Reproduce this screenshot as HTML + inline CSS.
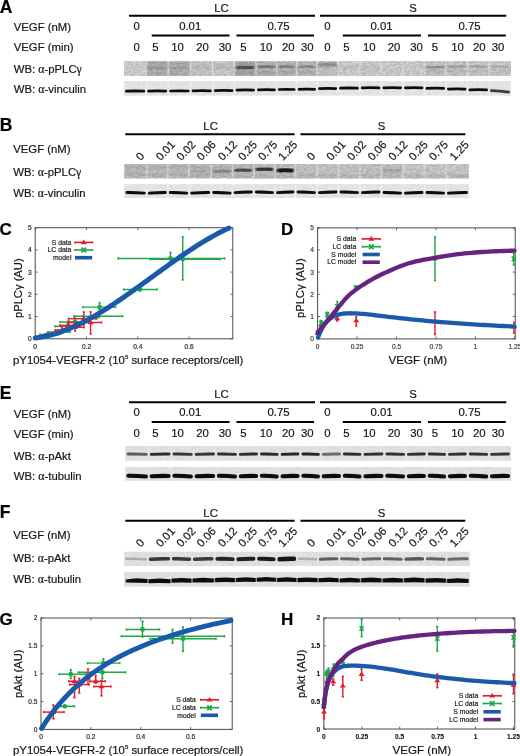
<!DOCTYPE html><html><head><meta charset="utf-8"><style>html,body{margin:0;padding:0;background:#fff;overflow:hidden}svg{display:block;filter:blur(0.3px)}text{font-family:"Liberation Sans",sans-serif}.g{font-family:"Liberation Serif",serif}</style></head><body>
<svg width="520" height="756" viewBox="0 0 520 756">
<defs>
<filter id="b06" x="-20%" y="-100%" width="140%" height="300%"><feGaussianBlur stdDeviation="0.55"/></filter>
<filter id="b08" x="-20%" y="-100%" width="140%" height="300%"><feGaussianBlur stdDeviation="0.85 0.7"/></filter>
<filter id="b04" x="-200%" y="-10%" width="500%" height="120%"><feGaussianBlur stdDeviation="0.4"/></filter>
<filter id="b1" x="-20%" y="-100%" width="140%" height="300%"><feGaussianBlur stdDeviation="1.0"/></filter>
<filter id="noise" x="0" y="0" width="100%" height="100%"><feTurbulence type="fractalNoise" baseFrequency="0.3" numOctaves="2" seed="3"/><feColorMatrix type="matrix" values="0 0 0 0 0  0 0 0 0 0  0 0 0 0 0  0 0 0 -1.4 1.1"/></filter>
<filter id="noise2" x="0" y="0" width="100%" height="100%"><feTurbulence type="fractalNoise" baseFrequency="0.3 0.55" numOctaves="2" seed="11"/><feColorMatrix type="matrix" values="0 0 0 0 0  0 0 0 0 0  0 0 0 0 0  0 0 0 -2.4 1.7"/></filter>
</defs>
<rect width="520" height="756" fill="#fff"/>
<text x="-0.30" y="12.70" font-size="17.5" text-anchor="start" font-weight="bold" fill="#000" stroke="#000" stroke-width="0.2">A</text>
<text x="13.70" y="30.90" font-size="11.35" text-anchor="start" font-weight="normal" fill="#161616" stroke="#161616" stroke-width="0.2">VEGF (nM)</text>
<text x="13.70" y="51.40" font-size="11.35" text-anchor="start" font-weight="normal" fill="#161616" stroke="#161616" stroke-width="0.2">VEGF (min)</text>
<text x="13.70" y="73.40" font-size="11.35" text-anchor="start" font-weight="normal" fill="#161616" stroke="#161616" stroke-width="0.2">WB: <tspan class="g" font-size="11.8">&#945;</tspan>-pPLC<tspan class="g" font-size="11.8">&#947;</tspan></text>
<text x="13.70" y="93.40" font-size="11.35" text-anchor="start" font-weight="normal" fill="#161616" stroke="#161616" stroke-width="0.2">WB: <tspan class="g" font-size="11.8">&#945;</tspan>-vinculin</text>
<line x1="129.00" y1="15.70" x2="315.00" y2="15.70" stroke="#000" stroke-width="2"/>
<line x1="320.00" y1="15.70" x2="506.30" y2="15.70" stroke="#000" stroke-width="2"/>
<text x="221.50" y="11.60" font-size="11.35" text-anchor="middle" font-weight="normal" fill="#161616" stroke="#161616" stroke-width="0.2">LC</text>
<text x="413.00" y="11.60" font-size="11.35" text-anchor="middle" font-weight="normal" fill="#161616" stroke="#161616" stroke-width="0.2">S</text>
<line x1="151.70" y1="35.50" x2="229.50" y2="35.50" stroke="#000" stroke-width="2"/>
<line x1="236.50" y1="35.50" x2="314.00" y2="35.50" stroke="#000" stroke-width="2"/>
<line x1="342.80" y1="35.50" x2="421.00" y2="35.50" stroke="#000" stroke-width="2"/>
<line x1="428.00" y1="35.50" x2="505.80" y2="35.50" stroke="#000" stroke-width="2"/>
<text x="136.60" y="29.60" font-size="11.35" text-anchor="middle" font-weight="normal" fill="#161616" stroke="#161616" stroke-width="0.2">0</text>
<text x="190.20" y="29.60" font-size="11.35" text-anchor="middle" font-weight="normal" fill="#161616" stroke="#161616" stroke-width="0.2">0.01</text>
<text x="278.50" y="29.60" font-size="11.35" text-anchor="middle" font-weight="normal" fill="#161616" stroke="#161616" stroke-width="0.2">0.75</text>
<text x="327.50" y="29.60" font-size="11.35" text-anchor="middle" font-weight="normal" fill="#161616" stroke="#161616" stroke-width="0.2">0</text>
<text x="381.50" y="29.60" font-size="11.35" text-anchor="middle" font-weight="normal" fill="#161616" stroke="#161616" stroke-width="0.2">0.01</text>
<text x="469.50" y="29.60" font-size="11.35" text-anchor="middle" font-weight="normal" fill="#161616" stroke="#161616" stroke-width="0.2">0.75</text>
<text x="136.60" y="50.60" font-size="11.35" text-anchor="middle" font-weight="normal" fill="#161616" stroke="#161616" stroke-width="0.2">0</text>
<text x="155.40" y="50.60" font-size="11.35" text-anchor="middle" font-weight="normal" fill="#161616" stroke="#161616" stroke-width="0.2">5</text>
<text x="177.60" y="50.60" font-size="11.35" text-anchor="middle" font-weight="normal" fill="#161616" stroke="#161616" stroke-width="0.2">10</text>
<text x="202.50" y="50.60" font-size="11.35" text-anchor="middle" font-weight="normal" fill="#161616" stroke="#161616" stroke-width="0.2">20</text>
<text x="225.00" y="50.60" font-size="11.35" text-anchor="middle" font-weight="normal" fill="#161616" stroke="#161616" stroke-width="0.2">30</text>
<text x="243.50" y="50.60" font-size="11.35" text-anchor="middle" font-weight="normal" fill="#161616" stroke="#161616" stroke-width="0.2">5</text>
<text x="266.00" y="50.60" font-size="11.35" text-anchor="middle" font-weight="normal" fill="#161616" stroke="#161616" stroke-width="0.2">10</text>
<text x="288.20" y="50.60" font-size="11.35" text-anchor="middle" font-weight="normal" fill="#161616" stroke="#161616" stroke-width="0.2">20</text>
<text x="307.30" y="50.60" font-size="11.35" text-anchor="middle" font-weight="normal" fill="#161616" stroke="#161616" stroke-width="0.2">30</text>
<text x="327.50" y="50.60" font-size="11.35" text-anchor="middle" font-weight="normal" fill="#161616" stroke="#161616" stroke-width="0.2">0</text>
<text x="346.40" y="50.60" font-size="11.35" text-anchor="middle" font-weight="normal" fill="#161616" stroke="#161616" stroke-width="0.2">5</text>
<text x="369.20" y="50.60" font-size="11.35" text-anchor="middle" font-weight="normal" fill="#161616" stroke="#161616" stroke-width="0.2">10</text>
<text x="394.10" y="50.60" font-size="11.35" text-anchor="middle" font-weight="normal" fill="#161616" stroke="#161616" stroke-width="0.2">20</text>
<text x="416.50" y="50.60" font-size="11.35" text-anchor="middle" font-weight="normal" fill="#161616" stroke="#161616" stroke-width="0.2">30</text>
<text x="435.00" y="50.60" font-size="11.35" text-anchor="middle" font-weight="normal" fill="#161616" stroke="#161616" stroke-width="0.2">5</text>
<text x="457.60" y="50.60" font-size="11.35" text-anchor="middle" font-weight="normal" fill="#161616" stroke="#161616" stroke-width="0.2">10</text>
<text x="479.30" y="50.60" font-size="11.35" text-anchor="middle" font-weight="normal" fill="#161616" stroke="#161616" stroke-width="0.2">20</text>
<text x="498.10" y="50.60" font-size="11.35" text-anchor="middle" font-weight="normal" fill="#161616" stroke="#161616" stroke-width="0.2">30</text>
<rect x="124.00" y="61.40" width="387.00" height="14.40" fill="#cecece"/>
<rect x="124.00" y="61.40" width="22.20" height="14.40" fill="#d6d6d6"/>
<rect x="146.20" y="61.40" width="22.00" height="14.40" fill="#bebebe"/>
<rect x="147.70" y="62.50" width="19.00" height="2.50" fill="#a5a5a5" filter="url(#b1)"/>
<rect x="147.70" y="67.50" width="19.00" height="2.50" fill="#a5a5a5" filter="url(#b1)"/>
<rect x="147.70" y="72.00" width="19.00" height="2.50" fill="#aaaaaa" filter="url(#b1)"/>
<path d="M149.05 66.75 Q157.20 66.25 165.35 66.75 Q166.60 66.75 166.60 68.00 Q166.60 69.25 165.35 69.25 Q157.20 68.95 149.05 69.25 Q147.80 69.25 147.80 68.00 Q147.80 66.75 149.05 66.75Z" fill="#a0a0a0" filter="url(#b08)"/>
<rect x="168.20" y="61.40" width="22.40" height="14.40" fill="#c0c0c0"/>
<rect x="169.70" y="62.50" width="19.40" height="2.50" fill="#a8a8a8" filter="url(#b1)"/>
<rect x="169.70" y="67.50" width="19.40" height="2.50" fill="#a8a8a8" filter="url(#b1)"/>
<rect x="169.70" y="72.00" width="19.40" height="2.50" fill="#acacac" filter="url(#b1)"/>
<path d="M171.05 66.75 Q179.40 66.25 187.75 66.75 Q189.00 66.75 189.00 68.00 Q189.00 69.25 187.75 69.25 Q179.40 68.95 171.05 69.25 Q169.80 69.25 169.80 68.00 Q169.80 66.75 171.05 66.75Z" fill="#a5a5a5" filter="url(#b08)"/>
<rect x="190.60" y="61.40" width="22.20" height="14.40" fill="#cecece"/>
<rect x="192.10" y="66.00" width="19.20" height="3.00" fill="#bcbcbc" filter="url(#b1)"/>
<rect x="212.80" y="61.40" width="21.70" height="14.40" fill="#d0d0d0"/>
<rect x="214.30" y="66.00" width="18.70" height="3.00" fill="#c0c0c0" filter="url(#b1)"/>
<rect x="234.50" y="61.40" width="21.50" height="14.40" fill="#b4b4b4"/>
<rect x="236.00" y="63.00" width="18.50" height="2.50" fill="#a0a0a0" filter="url(#b1)"/>
<rect x="236.00" y="71.50" width="18.50" height="3.00" fill="#a0a0a0" filter="url(#b1)"/>
<path d="M237.80 65.90 Q245.25 65.40 252.70 65.90 Q254.40 65.90 254.40 67.60 Q254.40 69.30 252.70 69.30 Q245.25 69.00 237.80 69.30 Q236.10 69.30 236.10 67.60 Q236.10 65.90 237.80 65.90Z" fill="#555555" filter="url(#b08)"/>
<rect x="256.00" y="61.40" width="20.80" height="14.40" fill="#bababa"/>
<rect x="257.50" y="71.00" width="17.80" height="3.00" fill="#aaaaaa" filter="url(#b1)"/>
<path d="M259.00 65.40 Q266.40 64.90 273.80 65.40 Q275.20 65.40 275.20 66.80 Q275.20 68.20 273.80 68.20 Q266.40 67.90 259.00 68.20 Q257.60 68.20 257.60 66.80 Q257.60 65.40 259.00 65.40Z" fill="#7d7d7d" filter="url(#b08)"/>
<rect x="276.80" y="61.40" width="19.80" height="14.40" fill="#bcbcbc"/>
<rect x="278.30" y="71.00" width="16.80" height="3.00" fill="#afafaf" filter="url(#b1)"/>
<path d="M279.80 65.40 Q286.70 64.90 293.60 65.40 Q295.00 65.40 295.00 66.80 Q295.00 68.20 293.60 68.20 Q286.70 67.90 279.80 68.20 Q278.40 68.20 278.40 66.80 Q278.40 65.40 279.80 65.40Z" fill="#878787" filter="url(#b08)"/>
<rect x="296.60" y="61.40" width="20.40" height="14.40" fill="#c0c0c0"/>
<rect x="298.10" y="71.00" width="17.40" height="3.00" fill="#b2b2b2" filter="url(#b1)"/>
<path d="M299.60 65.40 Q306.80 64.90 314.00 65.40 Q315.40 65.40 315.40 66.80 Q315.40 68.20 314.00 68.20 Q306.80 67.90 299.60 68.20 Q298.20 68.20 298.20 66.80 Q298.20 65.40 299.60 65.40Z" fill="#919191" filter="url(#b08)"/>
<rect x="317.00" y="61.40" width="21.10" height="14.40" fill="#c8c8c8"/>
<rect x="318.50" y="63.00" width="18.10" height="4.00" fill="#a5a5a5" filter="url(#b1)"/>
<path d="M319.90 63.50 Q327.55 63.00 335.20 63.50 Q336.50 63.50 336.50 64.80 Q336.50 66.10 335.20 66.10 Q327.55 65.80 319.90 66.10 Q318.60 66.10 318.60 64.80 Q318.60 63.50 319.90 63.50Z" fill="#969696" filter="url(#b08)"/>
<rect x="338.10" y="61.40" width="21.70" height="14.40" fill="#d4d4d4"/>
<rect x="339.60" y="66.00" width="18.70" height="3.00" fill="#c8c8c8" filter="url(#b1)"/>
<rect x="359.80" y="61.40" width="21.60" height="14.40" fill="#d4d4d4"/>
<rect x="361.30" y="66.00" width="18.60" height="3.00" fill="#c8c8c8" filter="url(#b1)"/>
<rect x="381.40" y="61.40" width="21.60" height="14.40" fill="#d3d3d3"/>
<rect x="403.00" y="61.40" width="21.50" height="14.40" fill="#d3d3d3"/>
<rect x="424.50" y="61.40" width="21.50" height="14.40" fill="#cccccc"/>
<rect x="426.00" y="70.00" width="18.50" height="3.00" fill="#bebebe" filter="url(#b1)"/>
<path d="M427.30 66.00 Q435.25 65.50 443.20 66.00 Q444.40 66.00 444.40 67.20 Q444.40 68.40 443.20 68.40 Q435.25 68.10 427.30 68.40 Q426.10 68.40 426.10 67.20 Q426.10 66.00 427.30 66.00Z" fill="#969696" filter="url(#b08)"/>
<rect x="446.00" y="61.40" width="21.50" height="14.40" fill="#cecece"/>
<rect x="447.50" y="70.00" width="18.50" height="3.00" fill="#c0c0c0" filter="url(#b1)"/>
<path d="M448.80 65.60 Q456.75 65.10 464.70 65.60 Q465.90 65.60 465.90 66.80 Q465.90 68.00 464.70 68.00 Q456.75 67.70 448.80 68.00 Q447.60 68.00 447.60 66.80 Q447.60 65.60 448.80 65.60Z" fill="#a5a5a5" filter="url(#b08)"/>
<rect x="467.50" y="61.40" width="21.50" height="14.40" fill="#d0d0d0"/>
<rect x="469.00" y="70.00" width="18.50" height="3.00" fill="#c3c3c3" filter="url(#b1)"/>
<path d="M470.30 65.60 Q478.25 65.10 486.20 65.60 Q487.40 65.60 487.40 66.80 Q487.40 68.00 486.20 68.00 Q478.25 67.70 470.30 68.00 Q469.10 68.00 469.10 66.80 Q469.10 65.60 470.30 65.60Z" fill="#acacac" filter="url(#b08)"/>
<rect x="489.00" y="61.40" width="22.00" height="14.40" fill="#d2d2d2"/>
<rect x="490.50" y="70.00" width="19.00" height="3.00" fill="#c6c6c6" filter="url(#b1)"/>
<path d="M491.80 65.60 Q500.00 65.10 508.20 65.60 Q509.40 65.60 509.40 66.80 Q509.40 68.00 508.20 68.00 Q500.00 67.70 491.80 68.00 Q490.60 68.00 490.60 66.80 Q490.60 65.60 491.80 65.60Z" fill="#b4b4b4" filter="url(#b08)"/>
<rect x="145.40" y="61.40" width="1.6" height="14.40" fill="#eeeeee" opacity="0.6" filter="url(#b04)"/>
<rect x="167.40" y="61.40" width="1.6" height="14.40" fill="#eeeeee" opacity="0.6" filter="url(#b04)"/>
<rect x="189.80" y="61.40" width="1.6" height="14.40" fill="#eeeeee" opacity="0.6" filter="url(#b04)"/>
<rect x="212.00" y="61.40" width="1.6" height="14.40" fill="#eeeeee" opacity="0.6" filter="url(#b04)"/>
<rect x="233.70" y="61.40" width="1.6" height="14.40" fill="#eeeeee" opacity="0.6" filter="url(#b04)"/>
<rect x="255.20" y="61.40" width="1.6" height="14.40" fill="#eeeeee" opacity="0.6" filter="url(#b04)"/>
<rect x="276.00" y="61.40" width="1.6" height="14.40" fill="#eeeeee" opacity="0.6" filter="url(#b04)"/>
<rect x="295.80" y="61.40" width="1.6" height="14.40" fill="#eeeeee" opacity="0.6" filter="url(#b04)"/>
<rect x="316.20" y="61.40" width="1.6" height="14.40" fill="#eeeeee" opacity="0.6" filter="url(#b04)"/>
<rect x="337.30" y="61.40" width="1.6" height="14.40" fill="#eeeeee" opacity="0.6" filter="url(#b04)"/>
<rect x="359.00" y="61.40" width="1.6" height="14.40" fill="#eeeeee" opacity="0.6" filter="url(#b04)"/>
<rect x="380.60" y="61.40" width="1.6" height="14.40" fill="#eeeeee" opacity="0.6" filter="url(#b04)"/>
<rect x="402.20" y="61.40" width="1.6" height="14.40" fill="#eeeeee" opacity="0.6" filter="url(#b04)"/>
<rect x="423.70" y="61.40" width="1.6" height="14.40" fill="#eeeeee" opacity="0.6" filter="url(#b04)"/>
<rect x="445.20" y="61.40" width="1.6" height="14.40" fill="#eeeeee" opacity="0.6" filter="url(#b04)"/>
<rect x="466.70" y="61.40" width="1.6" height="14.40" fill="#eeeeee" opacity="0.6" filter="url(#b04)"/>
<rect x="488.20" y="61.40" width="1.6" height="14.40" fill="#eeeeee" opacity="0.6" filter="url(#b04)"/>
<rect x="124.00" y="61.40" width="387.00" height="14.40" fill="#000" opacity="0.13" filter="url(#noise2)"/>
<rect x="124.00" y="81.30" width="387.00" height="14.00" fill="#e8e8e8"/>
<rect x="124.00" y="81.30" width="22.20" height="14.00" fill="#e8e8e8"/>
<path d="M126.35 89.85 Q135.10 89.35 143.85 89.85 Q145.20 89.85 145.20 91.20 Q145.20 92.55 143.85 92.55 Q135.10 92.25 126.35 92.55 Q125.00 92.55 125.00 91.20 Q125.00 89.85 126.35 89.85Z" fill="#0e0e0e" filter="url(#b06)"/>
<rect x="146.20" y="81.30" width="22.00" height="14.00" fill="#e8e8e8"/>
<path d="M148.55 89.75 Q157.20 89.25 165.85 89.75 Q167.20 89.75 167.20 91.10 Q167.20 92.45 165.85 92.45 Q157.20 92.15 148.55 92.45 Q147.20 92.45 147.20 91.10 Q147.20 89.75 148.55 89.75Z" fill="#0e0e0e" filter="url(#b06)"/>
<rect x="168.20" y="81.30" width="22.40" height="14.00" fill="#e8e8e8"/>
<path d="M170.55 89.65 Q179.40 89.15 188.25 89.65 Q189.60 89.65 189.60 91.00 Q189.60 92.35 188.25 92.35 Q179.40 92.05 170.55 92.35 Q169.20 92.35 169.20 91.00 Q169.20 89.65 170.55 89.65Z" fill="#0e0e0e" filter="url(#b06)"/>
<rect x="190.60" y="81.30" width="22.20" height="14.00" fill="#e8e8e8"/>
<path d="M192.95 89.45 Q201.70 88.95 210.45 89.45 Q211.80 89.45 211.80 90.80 Q211.80 92.15 210.45 92.15 Q201.70 91.85 192.95 92.15 Q191.60 92.15 191.60 90.80 Q191.60 89.45 192.95 89.45Z" fill="#0e0e0e" filter="url(#b06)"/>
<rect x="212.80" y="81.30" width="21.70" height="14.00" fill="#e8e8e8"/>
<path d="M215.15 89.25 Q223.65 88.75 232.15 89.25 Q233.50 89.25 233.50 90.60 Q233.50 91.95 232.15 91.95 Q223.65 91.65 215.15 91.95 Q213.80 91.95 213.80 90.60 Q213.80 89.25 215.15 89.25Z" fill="#0e0e0e" filter="url(#b06)"/>
<rect x="234.50" y="81.30" width="21.50" height="14.00" fill="#e8e8e8"/>
<path d="M236.85 88.75 Q245.25 88.25 253.65 88.75 Q255.00 88.75 255.00 90.10 Q255.00 91.45 253.65 91.45 Q245.25 91.15 236.85 91.45 Q235.50 91.45 235.50 90.10 Q235.50 88.75 236.85 88.75Z" fill="#0e0e0e" filter="url(#b06)"/>
<rect x="256.00" y="81.30" width="20.80" height="14.00" fill="#e8e8e8"/>
<path d="M258.35 88.45 Q266.40 87.95 274.45 88.45 Q275.80 88.45 275.80 89.80 Q275.80 91.15 274.45 91.15 Q266.40 90.85 258.35 91.15 Q257.00 91.15 257.00 89.80 Q257.00 88.45 258.35 88.45Z" fill="#0e0e0e" filter="url(#b06)"/>
<rect x="276.80" y="81.30" width="19.80" height="14.00" fill="#e8e8e8"/>
<path d="M279.15 88.15 Q286.70 87.65 294.25 88.15 Q295.60 88.15 295.60 89.50 Q295.60 90.85 294.25 90.85 Q286.70 90.55 279.15 90.85 Q277.80 90.85 277.80 89.50 Q277.80 88.15 279.15 88.15Z" fill="#0e0e0e" filter="url(#b06)"/>
<rect x="296.60" y="81.30" width="20.40" height="14.00" fill="#e8e8e8"/>
<path d="M298.95 87.95 Q306.80 87.45 314.65 87.95 Q316.00 87.95 316.00 89.30 Q316.00 90.65 314.65 90.65 Q306.80 90.35 298.95 90.65 Q297.60 90.65 297.60 89.30 Q297.60 87.95 298.95 87.95Z" fill="#0e0e0e" filter="url(#b06)"/>
<rect x="317.00" y="81.30" width="21.10" height="14.00" fill="#e8e8e8"/>
<path d="M319.35 87.25 Q327.55 86.75 335.75 87.25 Q337.10 87.25 337.10 88.60 Q337.10 89.95 335.75 89.95 Q327.55 89.65 319.35 89.95 Q318.00 89.95 318.00 88.60 Q318.00 87.25 319.35 87.25Z" fill="#0e0e0e" filter="url(#b06)"/>
<rect x="338.10" y="81.30" width="21.70" height="14.00" fill="#e8e8e8"/>
<path d="M340.45 86.85 Q348.95 86.35 357.45 86.85 Q358.80 86.85 358.80 88.20 Q358.80 89.55 357.45 89.55 Q348.95 89.25 340.45 89.55 Q339.10 89.55 339.10 88.20 Q339.10 86.85 340.45 86.85Z" fill="#0e0e0e" filter="url(#b06)"/>
<rect x="359.80" y="81.30" width="21.60" height="14.00" fill="#e8e8e8"/>
<path d="M362.15 86.55 Q370.60 86.05 379.05 86.55 Q380.40 86.55 380.40 87.90 Q380.40 89.25 379.05 89.25 Q370.60 88.95 362.15 89.25 Q360.80 89.25 360.80 87.90 Q360.80 86.55 362.15 86.55Z" fill="#0e0e0e" filter="url(#b06)"/>
<rect x="381.40" y="81.30" width="21.60" height="14.00" fill="#e8e8e8"/>
<path d="M383.75 86.45 Q392.20 85.95 400.65 86.45 Q402.00 86.45 402.00 87.80 Q402.00 89.15 400.65 89.15 Q392.20 88.85 383.75 89.15 Q382.40 89.15 382.40 87.80 Q382.40 86.45 383.75 86.45Z" fill="#0e0e0e" filter="url(#b06)"/>
<rect x="403.00" y="81.30" width="21.50" height="14.00" fill="#e8e8e8"/>
<path d="M405.35 86.45 Q413.75 85.95 422.15 86.45 Q423.50 86.45 423.50 87.80 Q423.50 89.15 422.15 89.15 Q413.75 88.85 405.35 89.15 Q404.00 89.15 404.00 87.80 Q404.00 86.45 405.35 86.45Z" fill="#0e0e0e" filter="url(#b06)"/>
<rect x="424.50" y="81.30" width="21.50" height="14.00" fill="#e8e8e8"/>
<path d="M426.85 87.05 Q435.25 86.55 443.65 87.05 Q445.00 87.05 445.00 88.40 Q445.00 89.75 443.65 89.75 Q435.25 89.45 426.85 89.75 Q425.50 89.75 425.50 88.40 Q425.50 87.05 426.85 87.05Z" fill="#0e0e0e" filter="url(#b06)"/>
<rect x="446.00" y="81.30" width="21.50" height="14.00" fill="#e8e8e8"/>
<path d="M448.35 87.75 Q456.75 87.25 465.15 87.75 Q466.50 87.75 466.50 89.10 Q466.50 90.45 465.15 90.45 Q456.75 90.15 448.35 90.45 Q447.00 90.45 447.00 89.10 Q447.00 87.75 448.35 87.75Z" fill="#0e0e0e" filter="url(#b06)"/>
<rect x="467.50" y="81.30" width="21.50" height="14.00" fill="#e8e8e8"/>
<path d="M469.85 88.55 Q478.25 88.05 486.65 88.55 Q488.00 88.55 488.00 89.90 Q488.00 91.25 486.65 91.25 Q478.25 90.95 469.85 91.25 Q468.50 91.25 468.50 89.90 Q468.50 88.55 469.85 88.55Z" fill="#0e0e0e" filter="url(#b06)"/>
<rect x="489.00" y="81.30" width="22.00" height="14.00" fill="#e8e8e8"/>
<path d="M491.35 89.35 Q500.00 89.55 508.65 90.75 Q510.00 90.75 510.00 92.10 Q510.00 93.45 508.65 93.45 Q500.00 92.45 491.35 92.05 Q490.00 92.05 490.00 90.70 Q490.00 89.35 491.35 89.35Z" fill="#3c3c3c" filter="url(#b06)"/>
<rect x="145.50" y="81.30" width="1.4" height="14.00" fill="#f8f8f8" opacity="0.6" filter="url(#b04)"/>
<rect x="167.50" y="81.30" width="1.4" height="14.00" fill="#f8f8f8" opacity="0.6" filter="url(#b04)"/>
<rect x="189.90" y="81.30" width="1.4" height="14.00" fill="#f8f8f8" opacity="0.6" filter="url(#b04)"/>
<rect x="212.10" y="81.30" width="1.4" height="14.00" fill="#f8f8f8" opacity="0.6" filter="url(#b04)"/>
<rect x="233.80" y="81.30" width="1.4" height="14.00" fill="#f8f8f8" opacity="0.6" filter="url(#b04)"/>
<rect x="255.30" y="81.30" width="1.4" height="14.00" fill="#f8f8f8" opacity="0.6" filter="url(#b04)"/>
<rect x="276.10" y="81.30" width="1.4" height="14.00" fill="#f8f8f8" opacity="0.6" filter="url(#b04)"/>
<rect x="295.90" y="81.30" width="1.4" height="14.00" fill="#f8f8f8" opacity="0.6" filter="url(#b04)"/>
<rect x="316.30" y="81.30" width="1.4" height="14.00" fill="#f8f8f8" opacity="0.6" filter="url(#b04)"/>
<rect x="337.40" y="81.30" width="1.4" height="14.00" fill="#f8f8f8" opacity="0.6" filter="url(#b04)"/>
<rect x="359.10" y="81.30" width="1.4" height="14.00" fill="#f8f8f8" opacity="0.6" filter="url(#b04)"/>
<rect x="380.70" y="81.30" width="1.4" height="14.00" fill="#f8f8f8" opacity="0.6" filter="url(#b04)"/>
<rect x="402.30" y="81.30" width="1.4" height="14.00" fill="#f8f8f8" opacity="0.6" filter="url(#b04)"/>
<rect x="423.80" y="81.30" width="1.4" height="14.00" fill="#f8f8f8" opacity="0.6" filter="url(#b04)"/>
<rect x="445.30" y="81.30" width="1.4" height="14.00" fill="#f8f8f8" opacity="0.6" filter="url(#b04)"/>
<rect x="466.80" y="81.30" width="1.4" height="14.00" fill="#f8f8f8" opacity="0.6" filter="url(#b04)"/>
<rect x="488.30" y="81.30" width="1.4" height="14.00" fill="#f8f8f8" opacity="0.6" filter="url(#b04)"/>
<rect x="124.00" y="81.30" width="387.00" height="14.00" fill="#000" opacity="0.05" filter="url(#noise)"/>
<text x="-0.30" y="399.30" font-size="17.5" text-anchor="start" font-weight="bold" fill="#000" stroke="#000" stroke-width="0.2">E</text>
<text x="13.70" y="417.50" font-size="11.35" text-anchor="start" font-weight="normal" fill="#161616" stroke="#161616" stroke-width="0.2">VEGF (nM)</text>
<text x="13.70" y="438.00" font-size="11.35" text-anchor="start" font-weight="normal" fill="#161616" stroke="#161616" stroke-width="0.2">VEGF (min)</text>
<text x="13.70" y="460.00" font-size="11.35" text-anchor="start" font-weight="normal" fill="#161616" stroke="#161616" stroke-width="0.2">WB: <tspan class="g" font-size="11.8">&#945;</tspan>-pAkt</text>
<text x="13.70" y="480.00" font-size="11.35" text-anchor="start" font-weight="normal" fill="#161616" stroke="#161616" stroke-width="0.2">WB: <tspan class="g" font-size="11.8">&#945;</tspan>-tubulin</text>
<line x1="129.00" y1="402.30" x2="315.00" y2="402.30" stroke="#000" stroke-width="2"/>
<line x1="320.00" y1="402.30" x2="506.30" y2="402.30" stroke="#000" stroke-width="2"/>
<text x="221.50" y="398.20" font-size="11.35" text-anchor="middle" font-weight="normal" fill="#161616" stroke="#161616" stroke-width="0.2">LC</text>
<text x="413.00" y="398.20" font-size="11.35" text-anchor="middle" font-weight="normal" fill="#161616" stroke="#161616" stroke-width="0.2">S</text>
<line x1="151.70" y1="422.10" x2="229.50" y2="422.10" stroke="#000" stroke-width="2"/>
<line x1="236.50" y1="422.10" x2="314.00" y2="422.10" stroke="#000" stroke-width="2"/>
<line x1="342.80" y1="422.10" x2="421.00" y2="422.10" stroke="#000" stroke-width="2"/>
<line x1="428.00" y1="422.10" x2="505.80" y2="422.10" stroke="#000" stroke-width="2"/>
<text x="136.60" y="416.20" font-size="11.35" text-anchor="middle" font-weight="normal" fill="#161616" stroke="#161616" stroke-width="0.2">0</text>
<text x="190.20" y="416.20" font-size="11.35" text-anchor="middle" font-weight="normal" fill="#161616" stroke="#161616" stroke-width="0.2">0.01</text>
<text x="278.50" y="416.20" font-size="11.35" text-anchor="middle" font-weight="normal" fill="#161616" stroke="#161616" stroke-width="0.2">0.75</text>
<text x="327.50" y="416.20" font-size="11.35" text-anchor="middle" font-weight="normal" fill="#161616" stroke="#161616" stroke-width="0.2">0</text>
<text x="381.50" y="416.20" font-size="11.35" text-anchor="middle" font-weight="normal" fill="#161616" stroke="#161616" stroke-width="0.2">0.01</text>
<text x="469.50" y="416.20" font-size="11.35" text-anchor="middle" font-weight="normal" fill="#161616" stroke="#161616" stroke-width="0.2">0.75</text>
<text x="136.60" y="437.20" font-size="11.35" text-anchor="middle" font-weight="normal" fill="#161616" stroke="#161616" stroke-width="0.2">0</text>
<text x="155.40" y="437.20" font-size="11.35" text-anchor="middle" font-weight="normal" fill="#161616" stroke="#161616" stroke-width="0.2">5</text>
<text x="177.60" y="437.20" font-size="11.35" text-anchor="middle" font-weight="normal" fill="#161616" stroke="#161616" stroke-width="0.2">10</text>
<text x="202.50" y="437.20" font-size="11.35" text-anchor="middle" font-weight="normal" fill="#161616" stroke="#161616" stroke-width="0.2">20</text>
<text x="225.00" y="437.20" font-size="11.35" text-anchor="middle" font-weight="normal" fill="#161616" stroke="#161616" stroke-width="0.2">30</text>
<text x="243.50" y="437.20" font-size="11.35" text-anchor="middle" font-weight="normal" fill="#161616" stroke="#161616" stroke-width="0.2">5</text>
<text x="266.00" y="437.20" font-size="11.35" text-anchor="middle" font-weight="normal" fill="#161616" stroke="#161616" stroke-width="0.2">10</text>
<text x="288.20" y="437.20" font-size="11.35" text-anchor="middle" font-weight="normal" fill="#161616" stroke="#161616" stroke-width="0.2">20</text>
<text x="307.30" y="437.20" font-size="11.35" text-anchor="middle" font-weight="normal" fill="#161616" stroke="#161616" stroke-width="0.2">30</text>
<text x="327.50" y="437.20" font-size="11.35" text-anchor="middle" font-weight="normal" fill="#161616" stroke="#161616" stroke-width="0.2">0</text>
<text x="346.40" y="437.20" font-size="11.35" text-anchor="middle" font-weight="normal" fill="#161616" stroke="#161616" stroke-width="0.2">5</text>
<text x="369.20" y="437.20" font-size="11.35" text-anchor="middle" font-weight="normal" fill="#161616" stroke="#161616" stroke-width="0.2">10</text>
<text x="394.10" y="437.20" font-size="11.35" text-anchor="middle" font-weight="normal" fill="#161616" stroke="#161616" stroke-width="0.2">20</text>
<text x="416.50" y="437.20" font-size="11.35" text-anchor="middle" font-weight="normal" fill="#161616" stroke="#161616" stroke-width="0.2">30</text>
<text x="435.00" y="437.20" font-size="11.35" text-anchor="middle" font-weight="normal" fill="#161616" stroke="#161616" stroke-width="0.2">5</text>
<text x="457.60" y="437.20" font-size="11.35" text-anchor="middle" font-weight="normal" fill="#161616" stroke="#161616" stroke-width="0.2">10</text>
<text x="479.30" y="437.20" font-size="11.35" text-anchor="middle" font-weight="normal" fill="#161616" stroke="#161616" stroke-width="0.2">20</text>
<text x="498.10" y="437.20" font-size="11.35" text-anchor="middle" font-weight="normal" fill="#161616" stroke="#161616" stroke-width="0.2">30</text>
<rect x="125.50" y="446.20" width="385.50" height="14.20" fill="#e4e4e4"/>
<rect x="125.50" y="446.20" width="23.30" height="14.20" fill="#e4e4e4"/>
<path d="M127.95 452.55 Q137.15 452.25 146.35 452.95 Q147.80 452.95 147.80 454.40 Q147.80 455.85 146.35 455.85 Q137.15 455.35 127.95 455.45 Q126.50 455.45 126.50 454.00 Q126.50 452.55 127.95 452.55Z" fill="#5f5f5f" filter="url(#b06)"/>
<rect x="148.80" y="446.20" width="22.70" height="14.20" fill="#e4e4e4"/>
<path d="M151.25 452.95 Q160.15 452.25 169.05 452.55 Q170.50 452.55 170.50 454.00 Q170.50 455.45 169.05 455.45 Q160.15 455.35 151.25 455.85 Q149.80 455.85 149.80 454.40 Q149.80 452.95 151.25 452.95Z" fill="#2d2d2d" filter="url(#b06)"/>
<rect x="171.50" y="446.20" width="22.20" height="14.20" fill="#e4e4e4"/>
<path d="M173.95 452.55 Q182.60 452.25 191.25 452.95 Q192.70 452.95 192.70 454.40 Q192.70 455.85 191.25 455.85 Q182.60 455.35 173.95 455.45 Q172.50 455.45 172.50 454.00 Q172.50 452.55 173.95 452.55Z" fill="#373737" filter="url(#b06)"/>
<rect x="193.70" y="446.20" width="22.30" height="14.20" fill="#e4e4e4"/>
<path d="M196.15 452.95 Q204.85 452.25 213.55 452.55 Q215.00 452.55 215.00 454.00 Q215.00 455.45 213.55 455.45 Q204.85 455.35 196.15 455.85 Q194.70 455.85 194.70 454.40 Q194.70 452.95 196.15 452.95Z" fill="#373737" filter="url(#b06)"/>
<rect x="216.00" y="446.20" width="21.90" height="14.20" fill="#e4e4e4"/>
<path d="M218.45 452.55 Q226.95 452.25 235.45 452.95 Q236.90 452.95 236.90 454.40 Q236.90 455.85 235.45 455.85 Q226.95 455.35 218.45 455.45 Q217.00 455.45 217.00 454.00 Q217.00 452.55 218.45 452.55Z" fill="#323232" filter="url(#b06)"/>
<rect x="237.90" y="446.20" width="21.10" height="14.20" fill="#e4e4e4"/>
<path d="M240.35 452.95 Q248.45 452.25 256.55 452.55 Q258.00 452.55 258.00 454.00 Q258.00 455.45 256.55 455.45 Q248.45 455.35 240.35 455.85 Q238.90 455.85 238.90 454.40 Q238.90 452.95 240.35 452.95Z" fill="#2d2d2d" filter="url(#b06)"/>
<rect x="259.00" y="446.20" width="20.60" height="14.20" fill="#e4e4e4"/>
<path d="M261.45 452.55 Q269.30 452.25 277.15 452.95 Q278.60 452.95 278.60 454.40 Q278.60 455.85 277.15 455.85 Q269.30 455.35 261.45 455.45 Q260.00 455.45 260.00 454.00 Q260.00 452.55 261.45 452.55Z" fill="#2a2a2a" filter="url(#b06)"/>
<rect x="279.60" y="446.20" width="20.80" height="14.20" fill="#e4e4e4"/>
<path d="M282.05 452.95 Q290.00 452.25 297.95 452.55 Q299.40 452.55 299.40 454.00 Q299.40 455.45 297.95 455.45 Q290.00 455.35 282.05 455.85 Q280.60 455.85 280.60 454.40 Q280.60 452.95 282.05 452.95Z" fill="#282828" filter="url(#b06)"/>
<rect x="300.40" y="446.20" width="20.40" height="14.20" fill="#e4e4e4"/>
<path d="M302.85 452.55 Q310.60 452.25 318.35 452.95 Q319.80 452.95 319.80 454.40 Q319.80 455.85 318.35 455.85 Q310.60 455.35 302.85 455.45 Q301.40 455.45 301.40 454.00 Q301.40 452.55 302.85 452.55Z" fill="#262626" filter="url(#b06)"/>
<rect x="320.80" y="446.20" width="21.10" height="14.20" fill="#e4e4e4"/>
<path d="M323.25 452.95 Q331.35 452.25 339.45 452.55 Q340.90 452.55 340.90 454.00 Q340.90 455.45 339.45 455.45 Q331.35 455.35 323.25 455.85 Q321.80 455.85 321.80 454.40 Q321.80 452.95 323.25 452.95Z" fill="#6e6e6e" filter="url(#b06)"/>
<rect x="341.90" y="446.20" width="20.60" height="14.20" fill="#e4e4e4"/>
<path d="M344.35 452.55 Q352.20 452.25 360.05 452.95 Q361.50 452.95 361.50 454.40 Q361.50 455.85 360.05 455.85 Q352.20 455.35 344.35 455.45 Q342.90 455.45 342.90 454.00 Q342.90 452.55 344.35 452.55Z" fill="#2d2d2d" filter="url(#b06)"/>
<rect x="362.50" y="446.20" width="21.90" height="14.20" fill="#e4e4e4"/>
<path d="M364.95 452.95 Q373.45 452.25 381.95 452.55 Q383.40 452.55 383.40 454.00 Q383.40 455.45 381.95 455.45 Q373.45 455.35 364.95 455.85 Q363.50 455.85 363.50 454.40 Q363.50 452.95 364.95 452.95Z" fill="#323232" filter="url(#b06)"/>
<rect x="384.40" y="446.20" width="21.60" height="14.20" fill="#e4e4e4"/>
<path d="M386.85 452.55 Q395.20 452.25 403.55 452.95 Q405.00 452.95 405.00 454.40 Q405.00 455.85 403.55 455.85 Q395.20 455.35 386.85 455.45 Q385.40 455.45 385.40 454.00 Q385.40 452.55 386.85 452.55Z" fill="#323232" filter="url(#b06)"/>
<rect x="406.00" y="446.20" width="20.80" height="14.20" fill="#e4e4e4"/>
<path d="M408.45 452.95 Q416.40 452.25 424.35 452.55 Q425.80 452.55 425.80 454.00 Q425.80 455.45 424.35 455.45 Q416.40 455.35 408.45 455.85 Q407.00 455.85 407.00 454.40 Q407.00 452.95 408.45 452.95Z" fill="#323232" filter="url(#b06)"/>
<rect x="426.80" y="446.20" width="20.20" height="14.20" fill="#e4e4e4"/>
<path d="M429.25 452.55 Q436.90 452.25 444.55 452.95 Q446.00 452.95 446.00 454.40 Q446.00 455.85 444.55 455.85 Q436.90 455.35 429.25 455.45 Q427.80 455.45 427.80 454.00 Q427.80 452.55 429.25 452.55Z" fill="#303030" filter="url(#b06)"/>
<rect x="447.00" y="446.20" width="20.80" height="14.20" fill="#e4e4e4"/>
<path d="M449.45 452.95 Q457.40 452.25 465.35 452.55 Q466.80 452.55 466.80 454.00 Q466.80 455.45 465.35 455.45 Q457.40 455.35 449.45 455.85 Q448.00 455.85 448.00 454.40 Q448.00 452.95 449.45 452.95Z" fill="#323232" filter="url(#b06)"/>
<rect x="467.80" y="446.20" width="21.30" height="14.20" fill="#e4e4e4"/>
<path d="M470.25 452.55 Q478.45 452.25 486.65 452.95 Q488.10 452.95 488.10 454.40 Q488.10 455.85 486.65 455.85 Q478.45 455.35 470.25 455.45 Q468.80 455.45 468.80 454.00 Q468.80 452.55 470.25 452.55Z" fill="#343434" filter="url(#b06)"/>
<rect x="489.10" y="446.20" width="21.90" height="14.20" fill="#e4e4e4"/>
<path d="M491.55 452.95 Q500.05 452.25 508.55 452.55 Q510.00 452.55 510.00 454.00 Q510.00 455.45 508.55 455.45 Q500.05 455.35 491.55 455.85 Q490.10 455.85 490.10 454.40 Q490.10 452.95 491.55 452.95Z" fill="#373737" filter="url(#b06)"/>
<rect x="148.10" y="446.20" width="1.4" height="14.20" fill="#ececec" opacity="0.6" filter="url(#b04)"/>
<rect x="170.80" y="446.20" width="1.4" height="14.20" fill="#ececec" opacity="0.6" filter="url(#b04)"/>
<rect x="193.00" y="446.20" width="1.4" height="14.20" fill="#ececec" opacity="0.6" filter="url(#b04)"/>
<rect x="215.30" y="446.20" width="1.4" height="14.20" fill="#ececec" opacity="0.6" filter="url(#b04)"/>
<rect x="237.20" y="446.20" width="1.4" height="14.20" fill="#ececec" opacity="0.6" filter="url(#b04)"/>
<rect x="258.30" y="446.20" width="1.4" height="14.20" fill="#ececec" opacity="0.6" filter="url(#b04)"/>
<rect x="278.90" y="446.20" width="1.4" height="14.20" fill="#ececec" opacity="0.6" filter="url(#b04)"/>
<rect x="299.70" y="446.20" width="1.4" height="14.20" fill="#ececec" opacity="0.6" filter="url(#b04)"/>
<rect x="320.10" y="446.20" width="1.4" height="14.20" fill="#ececec" opacity="0.6" filter="url(#b04)"/>
<rect x="341.20" y="446.20" width="1.4" height="14.20" fill="#ececec" opacity="0.6" filter="url(#b04)"/>
<rect x="361.80" y="446.20" width="1.4" height="14.20" fill="#ececec" opacity="0.6" filter="url(#b04)"/>
<rect x="383.70" y="446.20" width="1.4" height="14.20" fill="#ececec" opacity="0.6" filter="url(#b04)"/>
<rect x="405.30" y="446.20" width="1.4" height="14.20" fill="#ececec" opacity="0.6" filter="url(#b04)"/>
<rect x="426.10" y="446.20" width="1.4" height="14.20" fill="#ececec" opacity="0.6" filter="url(#b04)"/>
<rect x="446.30" y="446.20" width="1.4" height="14.20" fill="#ececec" opacity="0.6" filter="url(#b04)"/>
<rect x="467.10" y="446.20" width="1.4" height="14.20" fill="#ececec" opacity="0.6" filter="url(#b04)"/>
<rect x="488.40" y="446.20" width="1.4" height="14.20" fill="#ececec" opacity="0.6" filter="url(#b04)"/>
<rect x="125.50" y="446.20" width="385.50" height="14.20" fill="#000" opacity="0.05" filter="url(#noise)"/>
<rect x="125.50" y="467.20" width="385.50" height="13.30" fill="#e4e4e4"/>
<rect x="125.50" y="467.20" width="23.30" height="13.30" fill="#e4e4e4"/>
<path d="M128.30 473.80 Q137.15 473.60 146.00 474.40 Q148.00 474.40 148.00 476.40 Q148.00 478.40 146.00 478.40 Q137.15 477.80 128.30 477.80 Q126.30 477.80 126.30 475.80 Q126.30 473.80 128.30 473.80Z" fill="#101010" filter="url(#b06)"/>
<rect x="148.80" y="467.20" width="22.70" height="13.30" fill="#e4e4e4"/>
<path d="M151.60 474.30 Q160.15 473.60 168.70 473.90 Q170.70 473.90 170.70 475.90 Q170.70 477.90 168.70 477.90 Q160.15 477.80 151.60 478.30 Q149.60 478.30 149.60 476.30 Q149.60 474.30 151.60 474.30Z" fill="#101010" filter="url(#b06)"/>
<rect x="171.50" y="467.20" width="22.20" height="13.30" fill="#e4e4e4"/>
<path d="M174.30 473.80 Q182.60 473.60 190.90 474.40 Q192.90 474.40 192.90 476.40 Q192.90 478.40 190.90 478.40 Q182.60 477.80 174.30 477.80 Q172.30 477.80 172.30 475.80 Q172.30 473.80 174.30 473.80Z" fill="#101010" filter="url(#b06)"/>
<rect x="193.70" y="467.20" width="22.30" height="13.30" fill="#e4e4e4"/>
<path d="M196.50 474.30 Q204.85 473.60 213.20 473.90 Q215.20 473.90 215.20 475.90 Q215.20 477.90 213.20 477.90 Q204.85 477.80 196.50 478.30 Q194.50 478.30 194.50 476.30 Q194.50 474.30 196.50 474.30Z" fill="#101010" filter="url(#b06)"/>
<rect x="216.00" y="467.20" width="21.90" height="13.30" fill="#e4e4e4"/>
<path d="M218.80 473.80 Q226.95 473.60 235.10 474.40 Q237.10 474.40 237.10 476.40 Q237.10 478.40 235.10 478.40 Q226.95 477.80 218.80 477.80 Q216.80 477.80 216.80 475.80 Q216.80 473.80 218.80 473.80Z" fill="#101010" filter="url(#b06)"/>
<rect x="237.90" y="467.20" width="21.10" height="13.30" fill="#e4e4e4"/>
<path d="M240.70 474.30 Q248.45 473.60 256.20 473.90 Q258.20 473.90 258.20 475.90 Q258.20 477.90 256.20 477.90 Q248.45 477.80 240.70 478.30 Q238.70 478.30 238.70 476.30 Q238.70 474.30 240.70 474.30Z" fill="#101010" filter="url(#b06)"/>
<rect x="259.00" y="467.20" width="20.60" height="13.30" fill="#e4e4e4"/>
<path d="M261.80 473.80 Q269.30 473.60 276.80 474.40 Q278.80 474.40 278.80 476.40 Q278.80 478.40 276.80 478.40 Q269.30 477.80 261.80 477.80 Q259.80 477.80 259.80 475.80 Q259.80 473.80 261.80 473.80Z" fill="#101010" filter="url(#b06)"/>
<rect x="279.60" y="467.20" width="20.80" height="13.30" fill="#e4e4e4"/>
<path d="M282.40 474.30 Q290.00 473.60 297.60 473.90 Q299.60 473.90 299.60 475.90 Q299.60 477.90 297.60 477.90 Q290.00 477.80 282.40 478.30 Q280.40 478.30 280.40 476.30 Q280.40 474.30 282.40 474.30Z" fill="#101010" filter="url(#b06)"/>
<rect x="300.40" y="467.20" width="20.40" height="13.30" fill="#e4e4e4"/>
<path d="M303.20 473.80 Q310.60 473.60 318.00 474.40 Q320.00 474.40 320.00 476.40 Q320.00 478.40 318.00 478.40 Q310.60 477.80 303.20 477.80 Q301.20 477.80 301.20 475.80 Q301.20 473.80 303.20 473.80Z" fill="#101010" filter="url(#b06)"/>
<rect x="320.80" y="467.20" width="21.10" height="13.30" fill="#e4e4e4"/>
<path d="M323.60 474.30 Q331.35 473.60 339.10 473.90 Q341.10 473.90 341.10 475.90 Q341.10 477.90 339.10 477.90 Q331.35 477.80 323.60 478.30 Q321.60 478.30 321.60 476.30 Q321.60 474.30 323.60 474.30Z" fill="#101010" filter="url(#b06)"/>
<rect x="341.90" y="467.20" width="20.60" height="13.30" fill="#e4e4e4"/>
<path d="M344.70 473.80 Q352.20 473.60 359.70 474.40 Q361.70 474.40 361.70 476.40 Q361.70 478.40 359.70 478.40 Q352.20 477.80 344.70 477.80 Q342.70 477.80 342.70 475.80 Q342.70 473.80 344.70 473.80Z" fill="#101010" filter="url(#b06)"/>
<rect x="362.50" y="467.20" width="21.90" height="13.30" fill="#e4e4e4"/>
<path d="M365.30 474.30 Q373.45 473.60 381.60 473.90 Q383.60 473.90 383.60 475.90 Q383.60 477.90 381.60 477.90 Q373.45 477.80 365.30 478.30 Q363.30 478.30 363.30 476.30 Q363.30 474.30 365.30 474.30Z" fill="#101010" filter="url(#b06)"/>
<rect x="384.40" y="467.20" width="21.60" height="13.30" fill="#e4e4e4"/>
<path d="M387.20 473.80 Q395.20 473.60 403.20 474.40 Q405.20 474.40 405.20 476.40 Q405.20 478.40 403.20 478.40 Q395.20 477.80 387.20 477.80 Q385.20 477.80 385.20 475.80 Q385.20 473.80 387.20 473.80Z" fill="#101010" filter="url(#b06)"/>
<rect x="406.00" y="467.20" width="20.80" height="13.30" fill="#e4e4e4"/>
<path d="M408.80 474.30 Q416.40 473.60 424.00 473.90 Q426.00 473.90 426.00 475.90 Q426.00 477.90 424.00 477.90 Q416.40 477.80 408.80 478.30 Q406.80 478.30 406.80 476.30 Q406.80 474.30 408.80 474.30Z" fill="#101010" filter="url(#b06)"/>
<rect x="426.80" y="467.20" width="20.20" height="13.30" fill="#e4e4e4"/>
<path d="M429.60 473.80 Q436.90 473.60 444.20 474.40 Q446.20 474.40 446.20 476.40 Q446.20 478.40 444.20 478.40 Q436.90 477.80 429.60 477.80 Q427.60 477.80 427.60 475.80 Q427.60 473.80 429.60 473.80Z" fill="#101010" filter="url(#b06)"/>
<rect x="447.00" y="467.20" width="20.80" height="13.30" fill="#e4e4e4"/>
<path d="M449.80 474.30 Q457.40 473.60 465.00 473.90 Q467.00 473.90 467.00 475.90 Q467.00 477.90 465.00 477.90 Q457.40 477.80 449.80 478.30 Q447.80 478.30 447.80 476.30 Q447.80 474.30 449.80 474.30Z" fill="#101010" filter="url(#b06)"/>
<rect x="467.80" y="467.20" width="21.30" height="13.30" fill="#e4e4e4"/>
<path d="M470.60 473.80 Q478.45 473.60 486.30 474.40 Q488.30 474.40 488.30 476.40 Q488.30 478.40 486.30 478.40 Q478.45 477.80 470.60 477.80 Q468.60 477.80 468.60 475.80 Q468.60 473.80 470.60 473.80Z" fill="#101010" filter="url(#b06)"/>
<rect x="489.10" y="467.20" width="21.90" height="13.30" fill="#e4e4e4"/>
<path d="M491.90 474.30 Q500.05 473.60 508.20 473.90 Q510.20 473.90 510.20 475.90 Q510.20 477.90 508.20 477.90 Q500.05 477.80 491.90 478.30 Q489.90 478.30 489.90 476.30 Q489.90 474.30 491.90 474.30Z" fill="#101010" filter="url(#b06)"/>
<rect x="148.10" y="467.20" width="1.4" height="13.30" fill="#ececec" opacity="0.6" filter="url(#b04)"/>
<rect x="170.80" y="467.20" width="1.4" height="13.30" fill="#ececec" opacity="0.6" filter="url(#b04)"/>
<rect x="193.00" y="467.20" width="1.4" height="13.30" fill="#ececec" opacity="0.6" filter="url(#b04)"/>
<rect x="215.30" y="467.20" width="1.4" height="13.30" fill="#ececec" opacity="0.6" filter="url(#b04)"/>
<rect x="237.20" y="467.20" width="1.4" height="13.30" fill="#ececec" opacity="0.6" filter="url(#b04)"/>
<rect x="258.30" y="467.20" width="1.4" height="13.30" fill="#ececec" opacity="0.6" filter="url(#b04)"/>
<rect x="278.90" y="467.20" width="1.4" height="13.30" fill="#ececec" opacity="0.6" filter="url(#b04)"/>
<rect x="299.70" y="467.20" width="1.4" height="13.30" fill="#ececec" opacity="0.6" filter="url(#b04)"/>
<rect x="320.10" y="467.20" width="1.4" height="13.30" fill="#ececec" opacity="0.6" filter="url(#b04)"/>
<rect x="341.20" y="467.20" width="1.4" height="13.30" fill="#ececec" opacity="0.6" filter="url(#b04)"/>
<rect x="361.80" y="467.20" width="1.4" height="13.30" fill="#ececec" opacity="0.6" filter="url(#b04)"/>
<rect x="383.70" y="467.20" width="1.4" height="13.30" fill="#ececec" opacity="0.6" filter="url(#b04)"/>
<rect x="405.30" y="467.20" width="1.4" height="13.30" fill="#ececec" opacity="0.6" filter="url(#b04)"/>
<rect x="426.10" y="467.20" width="1.4" height="13.30" fill="#ececec" opacity="0.6" filter="url(#b04)"/>
<rect x="446.30" y="467.20" width="1.4" height="13.30" fill="#ececec" opacity="0.6" filter="url(#b04)"/>
<rect x="467.10" y="467.20" width="1.4" height="13.30" fill="#ececec" opacity="0.6" filter="url(#b04)"/>
<rect x="488.40" y="467.20" width="1.4" height="13.30" fill="#ececec" opacity="0.6" filter="url(#b04)"/>
<rect x="125.50" y="467.20" width="385.50" height="13.30" fill="#000" opacity="0.05" filter="url(#noise)"/>
<text x="-0.30" y="131.20" font-size="17.5" text-anchor="start" font-weight="bold" fill="#000" stroke="#000" stroke-width="0.2">B</text>
<text x="13.20" y="153.20" font-size="11.35" text-anchor="start" font-weight="normal" fill="#161616" stroke="#161616" stroke-width="0.2">VEGF (nM)</text>
<text x="13.20" y="175.80" font-size="11.35" text-anchor="start" font-weight="normal" fill="#161616" stroke="#161616" stroke-width="0.2">WB: <tspan class="g" font-size="11.8">&#945;</tspan>-pPLC<tspan class="g" font-size="11.8">&#947;</tspan></text>
<text x="13.20" y="197.00" font-size="11.35" text-anchor="start" font-weight="normal" fill="#161616" stroke="#161616" stroke-width="0.2">WB: <tspan class="g" font-size="11.8">&#945;</tspan>-vinculin</text>
<line x1="125.30" y1="134.20" x2="294.60" y2="134.20" stroke="#000" stroke-width="2"/>
<line x1="300.50" y1="134.20" x2="465.30" y2="134.20" stroke="#000" stroke-width="2"/>
<text x="210.60" y="130.10" font-size="11.35" text-anchor="middle" font-weight="normal" fill="#161616" stroke="#161616" stroke-width="0.2">LC</text>
<text x="381.60" y="130.10" font-size="11.35" text-anchor="middle" font-weight="normal" fill="#161616" stroke="#161616" stroke-width="0.2">S</text>
<text x="140.80" y="161.30" font-size="11.3" text-anchor="start" font-weight="normal" fill="#161616" stroke="#161616" stroke-width="0.2" transform="rotate(-47 140.80 161.30)">0</text>
<text x="160.70" y="161.30" font-size="11.3" text-anchor="start" font-weight="normal" fill="#161616" stroke="#161616" stroke-width="0.2" transform="rotate(-47 160.70 161.30)">0.01</text>
<text x="181.30" y="161.30" font-size="11.3" text-anchor="start" font-weight="normal" fill="#161616" stroke="#161616" stroke-width="0.2" transform="rotate(-47 181.30 161.30)">0.02</text>
<text x="201.60" y="161.30" font-size="11.3" text-anchor="start" font-weight="normal" fill="#161616" stroke="#161616" stroke-width="0.2" transform="rotate(-47 201.60 161.30)">0.06</text>
<text x="222.80" y="161.30" font-size="11.3" text-anchor="start" font-weight="normal" fill="#161616" stroke="#161616" stroke-width="0.2" transform="rotate(-47 222.80 161.30)">0.12</text>
<text x="242.90" y="161.30" font-size="11.3" text-anchor="start" font-weight="normal" fill="#161616" stroke="#161616" stroke-width="0.2" transform="rotate(-47 242.90 161.30)">0.25</text>
<text x="263.00" y="161.30" font-size="11.3" text-anchor="start" font-weight="normal" fill="#161616" stroke="#161616" stroke-width="0.2" transform="rotate(-47 263.00 161.30)">0.75</text>
<text x="283.10" y="161.30" font-size="11.3" text-anchor="start" font-weight="normal" fill="#161616" stroke="#161616" stroke-width="0.2" transform="rotate(-47 283.10 161.30)">1.25</text>
<text x="311.70" y="161.30" font-size="11.3" text-anchor="start" font-weight="normal" fill="#161616" stroke="#161616" stroke-width="0.2" transform="rotate(-47 311.70 161.30)">0</text>
<text x="331.30" y="161.30" font-size="11.3" text-anchor="start" font-weight="normal" fill="#161616" stroke="#161616" stroke-width="0.2" transform="rotate(-47 331.30 161.30)">0.01</text>
<text x="351.90" y="161.30" font-size="11.3" text-anchor="start" font-weight="normal" fill="#161616" stroke="#161616" stroke-width="0.2" transform="rotate(-47 351.90 161.30)">0.02</text>
<text x="372.40" y="161.30" font-size="11.3" text-anchor="start" font-weight="normal" fill="#161616" stroke="#161616" stroke-width="0.2" transform="rotate(-47 372.40 161.30)">0.06</text>
<text x="393.20" y="161.30" font-size="11.3" text-anchor="start" font-weight="normal" fill="#161616" stroke="#161616" stroke-width="0.2" transform="rotate(-47 393.20 161.30)">0.12</text>
<text x="413.50" y="161.30" font-size="11.3" text-anchor="start" font-weight="normal" fill="#161616" stroke="#161616" stroke-width="0.2" transform="rotate(-47 413.50 161.30)">0.25</text>
<text x="433.80" y="161.30" font-size="11.3" text-anchor="start" font-weight="normal" fill="#161616" stroke="#161616" stroke-width="0.2" transform="rotate(-47 433.80 161.30)">0.75</text>
<text x="454.60" y="161.30" font-size="11.3" text-anchor="start" font-weight="normal" fill="#161616" stroke="#161616" stroke-width="0.2" transform="rotate(-47 454.60 161.30)">1.25</text>
<rect x="124.40" y="164.00" width="344.60" height="14.20" fill="#cccccc"/>
<rect x="124.40" y="164.00" width="22.40" height="14.20" fill="#c4c4c4"/>
<rect x="125.90" y="166.00" width="19.40" height="3.00" fill="#b4b4b4" filter="url(#b1)"/>
<rect x="125.90" y="173.50" width="19.40" height="3.00" fill="#b6b6b6" filter="url(#b1)"/>
<rect x="146.80" y="164.00" width="21.00" height="14.20" fill="#c6c6c6"/>
<rect x="148.30" y="166.00" width="18.00" height="3.00" fill="#b4b4b4" filter="url(#b1)"/>
<rect x="148.30" y="173.50" width="18.00" height="3.00" fill="#b6b6b6" filter="url(#b1)"/>
<rect x="167.80" y="164.00" width="21.40" height="14.20" fill="#c4c4c4"/>
<rect x="169.30" y="166.00" width="18.40" height="3.00" fill="#b4b4b4" filter="url(#b1)"/>
<rect x="169.30" y="173.50" width="18.40" height="3.00" fill="#b6b6b6" filter="url(#b1)"/>
<rect x="189.20" y="164.00" width="22.00" height="14.20" fill="#c4c4c4"/>
<rect x="190.70" y="166.00" width="19.00" height="3.00" fill="#b4b4b4" filter="url(#b1)"/>
<rect x="190.70" y="173.50" width="19.00" height="3.00" fill="#b6b6b6" filter="url(#b1)"/>
<path d="M192.00 170.00 Q200.20 169.50 208.40 170.00 Q209.60 170.00 209.60 171.20 Q209.60 172.40 208.40 172.40 Q200.20 172.10 192.00 172.40 Q190.80 172.40 190.80 171.20 Q190.80 170.00 192.00 170.00Z" fill="#afafaf" filter="url(#b08)"/>
<rect x="211.20" y="164.00" width="21.40" height="14.20" fill="#c6c6c6"/>
<rect x="212.70" y="166.00" width="18.40" height="3.00" fill="#b4b4b4" filter="url(#b1)"/>
<rect x="212.70" y="173.50" width="18.40" height="3.00" fill="#b6b6b6" filter="url(#b1)"/>
<path d="M214.10 170.10 Q221.90 169.60 229.70 170.10 Q231.00 170.10 231.00 171.40 Q231.00 172.70 229.70 172.70 Q221.90 172.40 214.10 172.70 Q212.80 172.70 212.80 171.40 Q212.80 170.10 214.10 170.10Z" fill="#8c8c8c" filter="url(#b08)"/>
<rect x="232.60" y="164.00" width="21.20" height="14.20" fill="#c2c2c2"/>
<rect x="234.10" y="174.50" width="18.20" height="3.00" fill="#b9b9b9" filter="url(#b1)"/>
<path d="M235.70 168.80 Q243.20 168.30 250.70 168.80 Q252.20 168.80 252.20 170.30 Q252.20 171.80 250.70 171.80 Q243.20 171.50 235.70 171.80 Q234.20 171.80 234.20 170.30 Q234.20 168.80 235.70 168.80Z" fill="#505050" filter="url(#b08)"/>
<rect x="253.80" y="164.00" width="21.20" height="14.20" fill="#c6c6c6"/>
<rect x="255.30" y="174.50" width="18.20" height="3.00" fill="#b9b9b9" filter="url(#b1)"/>
<path d="M257.00 167.80 Q264.40 167.30 271.80 167.80 Q273.40 167.80 273.40 169.40 Q273.40 171.00 271.80 171.00 Q264.40 170.70 257.00 171.00 Q255.40 171.00 255.40 169.40 Q255.40 167.80 257.00 167.80Z" fill="#373737" filter="url(#b08)"/>
<rect x="275.00" y="164.00" width="20.50" height="14.20" fill="#c6c6c6"/>
<rect x="276.50" y="174.50" width="17.50" height="3.00" fill="#b9b9b9" filter="url(#b1)"/>
<path d="M278.50 168.60 Q285.25 168.10 292.00 168.60 Q293.90 168.60 293.90 170.50 Q293.90 172.40 292.00 172.40 Q285.25 172.10 278.50 172.40 Q276.60 172.40 276.60 170.50 Q276.60 168.60 278.50 168.60Z" fill="#1e1e1e" filter="url(#b08)"/>
<rect x="295.50" y="164.00" width="21.50" height="14.20" fill="#cacaca"/>
<rect x="297.00" y="174.50" width="18.50" height="3.00" fill="#b9b9b9" filter="url(#b1)"/>
<rect x="317.00" y="164.00" width="21.50" height="14.20" fill="#cccccc"/>
<rect x="318.50" y="174.50" width="18.50" height="3.00" fill="#b9b9b9" filter="url(#b1)"/>
<rect x="338.50" y="164.00" width="21.50" height="14.20" fill="#cccccc"/>
<rect x="340.00" y="174.50" width="18.50" height="3.00" fill="#b9b9b9" filter="url(#b1)"/>
<rect x="360.00" y="164.00" width="21.50" height="14.20" fill="#cacaca"/>
<rect x="361.50" y="174.50" width="18.50" height="3.00" fill="#b9b9b9" filter="url(#b1)"/>
<rect x="381.50" y="164.00" width="21.50" height="14.20" fill="#c8c8c8"/>
<rect x="383.00" y="174.50" width="18.50" height="3.00" fill="#b9b9b9" filter="url(#b1)"/>
<path d="M384.40 169.20 Q392.25 168.70 400.10 169.20 Q401.40 169.20 401.40 170.50 Q401.40 171.80 400.10 171.80 Q392.25 171.50 384.40 171.80 Q383.10 171.80 383.10 170.50 Q383.10 169.20 384.40 169.20Z" fill="#aaaaaa" filter="url(#b08)"/>
<rect x="403.00" y="164.00" width="21.50" height="14.20" fill="#cecece"/>
<rect x="404.50" y="174.50" width="18.50" height="3.00" fill="#b9b9b9" filter="url(#b1)"/>
<rect x="424.50" y="164.00" width="21.50" height="14.20" fill="#d0d0d0"/>
<rect x="426.00" y="174.50" width="18.50" height="3.00" fill="#b9b9b9" filter="url(#b1)"/>
<rect x="446.00" y="164.00" width="23.00" height="14.20" fill="#d0d0d0"/>
<rect x="447.50" y="174.50" width="20.00" height="3.00" fill="#b9b9b9" filter="url(#b1)"/>
<rect x="146.00" y="164.00" width="1.6" height="14.20" fill="#eeeeee" opacity="0.6" filter="url(#b04)"/>
<rect x="167.00" y="164.00" width="1.6" height="14.20" fill="#eeeeee" opacity="0.6" filter="url(#b04)"/>
<rect x="188.40" y="164.00" width="1.6" height="14.20" fill="#eeeeee" opacity="0.6" filter="url(#b04)"/>
<rect x="210.40" y="164.00" width="1.6" height="14.20" fill="#eeeeee" opacity="0.6" filter="url(#b04)"/>
<rect x="231.80" y="164.00" width="1.6" height="14.20" fill="#eeeeee" opacity="0.6" filter="url(#b04)"/>
<rect x="253.00" y="164.00" width="1.6" height="14.20" fill="#eeeeee" opacity="0.6" filter="url(#b04)"/>
<rect x="274.20" y="164.00" width="1.6" height="14.20" fill="#eeeeee" opacity="0.6" filter="url(#b04)"/>
<rect x="294.70" y="164.00" width="1.6" height="14.20" fill="#eeeeee" opacity="0.6" filter="url(#b04)"/>
<rect x="316.20" y="164.00" width="1.6" height="14.20" fill="#eeeeee" opacity="0.6" filter="url(#b04)"/>
<rect x="337.70" y="164.00" width="1.6" height="14.20" fill="#eeeeee" opacity="0.6" filter="url(#b04)"/>
<rect x="359.20" y="164.00" width="1.6" height="14.20" fill="#eeeeee" opacity="0.6" filter="url(#b04)"/>
<rect x="380.70" y="164.00" width="1.6" height="14.20" fill="#eeeeee" opacity="0.6" filter="url(#b04)"/>
<rect x="402.20" y="164.00" width="1.6" height="14.20" fill="#eeeeee" opacity="0.6" filter="url(#b04)"/>
<rect x="423.70" y="164.00" width="1.6" height="14.20" fill="#eeeeee" opacity="0.6" filter="url(#b04)"/>
<rect x="445.20" y="164.00" width="1.6" height="14.20" fill="#eeeeee" opacity="0.6" filter="url(#b04)"/>
<rect x="124.40" y="164.00" width="344.60" height="14.20" fill="#000" opacity="0.13" filter="url(#noise2)"/>
<rect x="124.40" y="184.30" width="344.60" height="13.60" fill="#e8e8e8"/>
<rect x="124.40" y="184.30" width="22.40" height="13.60" fill="#e8e8e8"/>
<path d="M126.85 191.05 Q135.60 190.85 144.35 191.65 Q145.80 191.65 145.80 193.10 Q145.80 194.55 144.35 194.55 Q135.60 193.95 126.85 193.95 Q125.40 193.95 125.40 192.50 Q125.40 191.05 126.85 191.05Z" fill="#0e0e0e" filter="url(#b06)"/>
<rect x="146.80" y="184.30" width="21.00" height="13.60" fill="#e8e8e8"/>
<path d="M149.25 191.70 Q157.30 190.85 165.35 191.00 Q166.80 191.00 166.80 192.45 Q166.80 193.90 165.35 193.90 Q157.30 193.95 149.25 194.60 Q147.80 194.60 147.80 193.15 Q147.80 191.70 149.25 191.70Z" fill="#0e0e0e" filter="url(#b06)"/>
<rect x="167.80" y="184.30" width="21.40" height="13.60" fill="#e8e8e8"/>
<path d="M170.25 191.05 Q178.50 190.85 186.75 191.65 Q188.20 191.65 188.20 193.10 Q188.20 194.55 186.75 194.55 Q178.50 193.95 170.25 193.95 Q168.80 193.95 168.80 192.50 Q168.80 191.05 170.25 191.05Z" fill="#0e0e0e" filter="url(#b06)"/>
<rect x="189.20" y="184.30" width="22.00" height="13.60" fill="#e8e8e8"/>
<path d="M191.65 191.70 Q200.20 190.85 208.75 191.00 Q210.20 191.00 210.20 192.45 Q210.20 193.90 208.75 193.90 Q200.20 193.95 191.65 194.60 Q190.20 194.60 190.20 193.15 Q190.20 191.70 191.65 191.70Z" fill="#0e0e0e" filter="url(#b06)"/>
<rect x="211.20" y="184.30" width="21.40" height="13.60" fill="#e8e8e8"/>
<path d="M213.65 191.05 Q221.90 190.85 230.15 191.65 Q231.60 191.65 231.60 193.10 Q231.60 194.55 230.15 194.55 Q221.90 193.95 213.65 193.95 Q212.20 193.95 212.20 192.50 Q212.20 191.05 213.65 191.05Z" fill="#0e0e0e" filter="url(#b06)"/>
<rect x="232.60" y="184.30" width="21.20" height="13.60" fill="#e8e8e8"/>
<path d="M235.05 191.20 Q243.20 190.35 251.35 190.50 Q252.80 190.50 252.80 191.95 Q252.80 193.40 251.35 193.40 Q243.20 193.45 235.05 194.10 Q233.60 194.10 233.60 192.65 Q233.60 191.20 235.05 191.20Z" fill="#0e0e0e" filter="url(#b06)"/>
<rect x="253.80" y="184.30" width="21.20" height="13.60" fill="#e8e8e8"/>
<path d="M256.25 190.55 Q264.40 190.35 272.55 191.15 Q274.00 191.15 274.00 192.60 Q274.00 194.05 272.55 194.05 Q264.40 193.45 256.25 193.45 Q254.80 193.45 254.80 192.00 Q254.80 190.55 256.25 190.55Z" fill="#0e0e0e" filter="url(#b06)"/>
<rect x="275.00" y="184.30" width="20.50" height="13.60" fill="#e8e8e8"/>
<path d="M277.45 191.20 Q285.25 190.35 293.05 190.50 Q294.50 190.50 294.50 191.95 Q294.50 193.40 293.05 193.40 Q285.25 193.45 277.45 194.10 Q276.00 194.10 276.00 192.65 Q276.00 191.20 277.45 191.20Z" fill="#0e0e0e" filter="url(#b06)"/>
<rect x="295.50" y="184.30" width="21.50" height="13.60" fill="#e8e8e8"/>
<path d="M297.95 190.55 Q306.25 190.35 314.55 191.15 Q316.00 191.15 316.00 192.60 Q316.00 194.05 314.55 194.05 Q306.25 193.45 297.95 193.45 Q296.50 193.45 296.50 192.00 Q296.50 190.55 297.95 190.55Z" fill="#0e0e0e" filter="url(#b06)"/>
<rect x="317.00" y="184.30" width="21.50" height="13.60" fill="#e8e8e8"/>
<path d="M319.45 191.20 Q327.75 190.35 336.05 190.50 Q337.50 190.50 337.50 191.95 Q337.50 193.40 336.05 193.40 Q327.75 193.45 319.45 194.10 Q318.00 194.10 318.00 192.65 Q318.00 191.20 319.45 191.20Z" fill="#0e0e0e" filter="url(#b06)"/>
<rect x="338.50" y="184.30" width="21.50" height="13.60" fill="#e8e8e8"/>
<path d="M340.95 190.55 Q349.25 190.35 357.55 191.15 Q359.00 191.15 359.00 192.60 Q359.00 194.05 357.55 194.05 Q349.25 193.45 340.95 193.45 Q339.50 193.45 339.50 192.00 Q339.50 190.55 340.95 190.55Z" fill="#0e0e0e" filter="url(#b06)"/>
<rect x="360.00" y="184.30" width="21.50" height="13.60" fill="#e8e8e8"/>
<path d="M362.45 191.20 Q370.75 190.35 379.05 190.50 Q380.50 190.50 380.50 191.95 Q380.50 193.40 379.05 193.40 Q370.75 193.45 362.45 194.10 Q361.00 194.10 361.00 192.65 Q361.00 191.20 362.45 191.20Z" fill="#0e0e0e" filter="url(#b06)"/>
<rect x="381.50" y="184.30" width="21.50" height="13.60" fill="#e8e8e8"/>
<path d="M383.95 191.05 Q392.25 190.85 400.55 191.65 Q402.00 191.65 402.00 193.10 Q402.00 194.55 400.55 194.55 Q392.25 193.95 383.95 193.95 Q382.50 193.95 382.50 192.50 Q382.50 191.05 383.95 191.05Z" fill="#0e0e0e" filter="url(#b06)"/>
<rect x="403.00" y="184.30" width="21.50" height="13.60" fill="#e8e8e8"/>
<path d="M405.45 191.70 Q413.75 190.85 422.05 191.00 Q423.50 191.00 423.50 192.45 Q423.50 193.90 422.05 193.90 Q413.75 193.95 405.45 194.60 Q404.00 194.60 404.00 193.15 Q404.00 191.70 405.45 191.70Z" fill="#0e0e0e" filter="url(#b06)"/>
<rect x="424.50" y="184.30" width="21.50" height="13.60" fill="#e8e8e8"/>
<path d="M426.95 191.05 Q435.25 190.85 443.55 191.65 Q445.00 191.65 445.00 193.10 Q445.00 194.55 443.55 194.55 Q435.25 193.95 426.95 193.95 Q425.50 193.95 425.50 192.50 Q425.50 191.05 426.95 191.05Z" fill="#0e0e0e" filter="url(#b06)"/>
<rect x="446.00" y="184.30" width="23.00" height="13.60" fill="#e8e8e8"/>
<path d="M448.45 191.70 Q457.50 190.85 466.55 191.00 Q468.00 191.00 468.00 192.45 Q468.00 193.90 466.55 193.90 Q457.50 193.95 448.45 194.60 Q447.00 194.60 447.00 193.15 Q447.00 191.70 448.45 191.70Z" fill="#0e0e0e" filter="url(#b06)"/>
<rect x="146.10" y="184.30" width="1.4" height="13.60" fill="#f8f8f8" opacity="0.6" filter="url(#b04)"/>
<rect x="167.10" y="184.30" width="1.4" height="13.60" fill="#f8f8f8" opacity="0.6" filter="url(#b04)"/>
<rect x="188.50" y="184.30" width="1.4" height="13.60" fill="#f8f8f8" opacity="0.6" filter="url(#b04)"/>
<rect x="210.50" y="184.30" width="1.4" height="13.60" fill="#f8f8f8" opacity="0.6" filter="url(#b04)"/>
<rect x="231.90" y="184.30" width="1.4" height="13.60" fill="#f8f8f8" opacity="0.6" filter="url(#b04)"/>
<rect x="253.10" y="184.30" width="1.4" height="13.60" fill="#f8f8f8" opacity="0.6" filter="url(#b04)"/>
<rect x="274.30" y="184.30" width="1.4" height="13.60" fill="#f8f8f8" opacity="0.6" filter="url(#b04)"/>
<rect x="294.80" y="184.30" width="1.4" height="13.60" fill="#f8f8f8" opacity="0.6" filter="url(#b04)"/>
<rect x="316.30" y="184.30" width="1.4" height="13.60" fill="#f8f8f8" opacity="0.6" filter="url(#b04)"/>
<rect x="337.80" y="184.30" width="1.4" height="13.60" fill="#f8f8f8" opacity="0.6" filter="url(#b04)"/>
<rect x="359.30" y="184.30" width="1.4" height="13.60" fill="#f8f8f8" opacity="0.6" filter="url(#b04)"/>
<rect x="380.80" y="184.30" width="1.4" height="13.60" fill="#f8f8f8" opacity="0.6" filter="url(#b04)"/>
<rect x="402.30" y="184.30" width="1.4" height="13.60" fill="#f8f8f8" opacity="0.6" filter="url(#b04)"/>
<rect x="423.80" y="184.30" width="1.4" height="13.60" fill="#f8f8f8" opacity="0.6" filter="url(#b04)"/>
<rect x="445.30" y="184.30" width="1.4" height="13.60" fill="#f8f8f8" opacity="0.6" filter="url(#b04)"/>
<rect x="124.40" y="184.30" width="344.60" height="13.60" fill="#000" opacity="0.05" filter="url(#noise)"/>
<text x="-0.30" y="517.70" font-size="17.5" text-anchor="start" font-weight="bold" fill="#000" stroke="#000" stroke-width="0.2">F</text>
<text x="13.20" y="539.00" font-size="11.35" text-anchor="start" font-weight="normal" fill="#161616" stroke="#161616" stroke-width="0.2">VEGF (nM)</text>
<text x="13.20" y="561.60" font-size="11.35" text-anchor="start" font-weight="normal" fill="#161616" stroke="#161616" stroke-width="0.2">WB: <tspan class="g" font-size="11.8">&#945;</tspan>-pAkt</text>
<text x="13.20" y="582.80" font-size="11.35" text-anchor="start" font-weight="normal" fill="#161616" stroke="#161616" stroke-width="0.2">WB: <tspan class="g" font-size="11.8">&#945;</tspan>-tubulin</text>
<line x1="125.30" y1="520.70" x2="294.60" y2="520.70" stroke="#000" stroke-width="2"/>
<line x1="300.50" y1="520.70" x2="465.30" y2="520.70" stroke="#000" stroke-width="2"/>
<text x="210.60" y="516.60" font-size="11.35" text-anchor="middle" font-weight="normal" fill="#161616" stroke="#161616" stroke-width="0.2">LC</text>
<text x="381.60" y="516.60" font-size="11.35" text-anchor="middle" font-weight="normal" fill="#161616" stroke="#161616" stroke-width="0.2">S</text>
<text x="140.80" y="547.80" font-size="11.3" text-anchor="start" font-weight="normal" fill="#161616" stroke="#161616" stroke-width="0.2" transform="rotate(-47 140.80 547.80)">0</text>
<text x="160.70" y="547.80" font-size="11.3" text-anchor="start" font-weight="normal" fill="#161616" stroke="#161616" stroke-width="0.2" transform="rotate(-47 160.70 547.80)">0.01</text>
<text x="181.30" y="547.80" font-size="11.3" text-anchor="start" font-weight="normal" fill="#161616" stroke="#161616" stroke-width="0.2" transform="rotate(-47 181.30 547.80)">0.02</text>
<text x="201.60" y="547.80" font-size="11.3" text-anchor="start" font-weight="normal" fill="#161616" stroke="#161616" stroke-width="0.2" transform="rotate(-47 201.60 547.80)">0.06</text>
<text x="222.80" y="547.80" font-size="11.3" text-anchor="start" font-weight="normal" fill="#161616" stroke="#161616" stroke-width="0.2" transform="rotate(-47 222.80 547.80)">0.12</text>
<text x="242.90" y="547.80" font-size="11.3" text-anchor="start" font-weight="normal" fill="#161616" stroke="#161616" stroke-width="0.2" transform="rotate(-47 242.90 547.80)">0.25</text>
<text x="263.00" y="547.80" font-size="11.3" text-anchor="start" font-weight="normal" fill="#161616" stroke="#161616" stroke-width="0.2" transform="rotate(-47 263.00 547.80)">0.75</text>
<text x="283.10" y="547.80" font-size="11.3" text-anchor="start" font-weight="normal" fill="#161616" stroke="#161616" stroke-width="0.2" transform="rotate(-47 283.10 547.80)">1.25</text>
<text x="311.70" y="547.80" font-size="11.3" text-anchor="start" font-weight="normal" fill="#161616" stroke="#161616" stroke-width="0.2" transform="rotate(-47 311.70 547.80)">0</text>
<text x="331.30" y="547.80" font-size="11.3" text-anchor="start" font-weight="normal" fill="#161616" stroke="#161616" stroke-width="0.2" transform="rotate(-47 331.30 547.80)">0.01</text>
<text x="351.90" y="547.80" font-size="11.3" text-anchor="start" font-weight="normal" fill="#161616" stroke="#161616" stroke-width="0.2" transform="rotate(-47 351.90 547.80)">0.02</text>
<text x="372.40" y="547.80" font-size="11.3" text-anchor="start" font-weight="normal" fill="#161616" stroke="#161616" stroke-width="0.2" transform="rotate(-47 372.40 547.80)">0.06</text>
<text x="393.20" y="547.80" font-size="11.3" text-anchor="start" font-weight="normal" fill="#161616" stroke="#161616" stroke-width="0.2" transform="rotate(-47 393.20 547.80)">0.12</text>
<text x="413.50" y="547.80" font-size="11.3" text-anchor="start" font-weight="normal" fill="#161616" stroke="#161616" stroke-width="0.2" transform="rotate(-47 413.50 547.80)">0.25</text>
<text x="433.80" y="547.80" font-size="11.3" text-anchor="start" font-weight="normal" fill="#161616" stroke="#161616" stroke-width="0.2" transform="rotate(-47 433.80 547.80)">0.75</text>
<text x="454.60" y="547.80" font-size="11.3" text-anchor="start" font-weight="normal" fill="#161616" stroke="#161616" stroke-width="0.2" transform="rotate(-47 454.60 547.80)">1.25</text>
<rect x="124.40" y="551.90" width="345.10" height="13.90" fill="#e4e4e4"/>
<rect x="124.40" y="551.90" width="23.60" height="13.90" fill="#e4e4e4"/>
<path d="M126.40 557.60 Q136.20 557.30 146.00 558.00 Q147.20 558.00 147.20 559.20 Q147.20 560.40 146.00 560.40 Q136.20 559.90 126.40 560.00 Q125.20 560.00 125.20 558.80 Q125.20 557.60 126.40 557.60Z" fill="#afafaf" filter="url(#b06)"/>
<rect x="148.00" y="551.90" width="23.00" height="13.90" fill="#e4e4e4"/>
<path d="M150.50 557.50 Q159.50 556.80 168.50 557.10 Q170.20 557.10 170.20 558.80 Q170.20 560.50 168.50 560.50 Q159.50 560.40 150.50 560.90 Q148.80 560.90 148.80 559.20 Q148.80 557.50 150.50 557.50Z" fill="#373737" filter="url(#b06)"/>
<rect x="171.00" y="551.90" width="21.00" height="13.90" fill="#e4e4e4"/>
<path d="M173.50 557.10 Q181.50 556.80 189.50 557.50 Q191.20 557.50 191.20 559.20 Q191.20 560.90 189.50 560.90 Q181.50 560.40 173.50 560.50 Q171.80 560.50 171.80 558.80 Q171.80 557.10 173.50 557.10Z" fill="#3c3c3c" filter="url(#b06)"/>
<rect x="192.00" y="551.90" width="22.50" height="13.90" fill="#e4e4e4"/>
<path d="M194.50 557.50 Q203.25 556.80 212.00 557.10 Q213.70 557.10 213.70 558.80 Q213.70 560.50 212.00 560.50 Q203.25 560.40 194.50 560.90 Q192.80 560.90 192.80 559.20 Q192.80 557.50 194.50 557.50Z" fill="#3c3c3c" filter="url(#b06)"/>
<rect x="214.50" y="551.90" width="21.00" height="13.90" fill="#e4e4e4"/>
<path d="M217.20 556.90 Q225.00 556.60 232.80 557.30 Q234.70 557.30 234.70 559.20 Q234.70 561.10 232.80 561.10 Q225.00 560.60 217.20 560.70 Q215.30 560.70 215.30 558.80 Q215.30 556.90 217.20 556.90Z" fill="#282828" filter="url(#b06)"/>
<rect x="235.50" y="551.90" width="20.80" height="13.90" fill="#e4e4e4"/>
<path d="M238.30 557.20 Q245.90 556.50 253.50 556.80 Q255.50 556.80 255.50 558.80 Q255.50 560.80 253.50 560.80 Q245.90 560.70 238.30 561.20 Q236.30 561.20 236.30 559.20 Q236.30 557.20 238.30 557.20Z" fill="#202020" filter="url(#b06)"/>
<rect x="256.30" y="551.90" width="20.20" height="13.90" fill="#e4e4e4"/>
<path d="M259.10 556.80 Q266.40 556.50 273.70 557.20 Q275.70 557.20 275.70 559.20 Q275.70 561.20 273.70 561.20 Q266.40 560.70 259.10 560.80 Q257.10 560.80 257.10 558.80 Q257.10 556.80 259.10 556.80Z" fill="#1e1e1e" filter="url(#b06)"/>
<rect x="276.50" y="551.90" width="20.50" height="13.90" fill="#e4e4e4"/>
<path d="M279.30 557.00 Q286.75 556.30 294.20 556.60 Q296.20 556.60 296.20 558.80 Q296.20 561.00 294.20 561.00 Q286.75 560.90 279.30 561.40 Q277.30 561.40 277.30 559.20 Q277.30 557.00 279.30 557.00Z" fill="#161616" filter="url(#b06)"/>
<rect x="297.00" y="551.90" width="21.00" height="13.90" fill="#e4e4e4"/>
<path d="M299.00 557.60 Q307.50 557.30 316.00 558.00 Q317.20 558.00 317.20 559.20 Q317.20 560.40 316.00 560.40 Q307.50 559.90 299.00 560.00 Q297.80 560.00 297.80 558.80 Q297.80 557.60 299.00 557.60Z" fill="#b2b2b2" filter="url(#b06)"/>
<rect x="318.00" y="551.90" width="21.20" height="13.90" fill="#e4e4e4"/>
<path d="M320.30 557.70 Q328.60 557.00 336.90 557.30 Q338.40 557.30 338.40 558.80 Q338.40 560.30 336.90 560.30 Q328.60 560.20 320.30 560.70 Q318.80 560.70 318.80 559.20 Q318.80 557.70 320.30 557.70Z" fill="#5f5f5f" filter="url(#b06)"/>
<rect x="339.20" y="551.90" width="21.30" height="13.90" fill="#e4e4e4"/>
<path d="M341.50 557.30 Q349.85 557.00 358.20 557.70 Q359.70 557.70 359.70 559.20 Q359.70 560.70 358.20 560.70 Q349.85 560.20 341.50 560.30 Q340.00 560.30 340.00 558.80 Q340.00 557.30 341.50 557.30Z" fill="#696969" filter="url(#b06)"/>
<rect x="360.50" y="551.90" width="21.50" height="13.90" fill="#e4e4e4"/>
<path d="M362.80 557.70 Q371.25 557.00 379.70 557.30 Q381.20 557.30 381.20 558.80 Q381.20 560.30 379.70 560.30 Q371.25 560.20 362.80 560.70 Q361.30 560.70 361.30 559.20 Q361.30 557.70 362.80 557.70Z" fill="#696969" filter="url(#b06)"/>
<rect x="382.00" y="551.90" width="21.50" height="13.90" fill="#e4e4e4"/>
<path d="M384.30 557.30 Q392.75 557.00 401.20 557.70 Q402.70 557.70 402.70 559.20 Q402.70 560.70 401.20 560.70 Q392.75 560.20 384.30 560.30 Q382.80 560.30 382.80 558.80 Q382.80 557.30 384.30 557.30Z" fill="#646464" filter="url(#b06)"/>
<rect x="403.50" y="551.90" width="21.50" height="13.90" fill="#e4e4e4"/>
<path d="M405.90 557.60 Q414.25 556.90 422.60 557.20 Q424.20 557.20 424.20 558.80 Q424.20 560.40 422.60 560.40 Q414.25 560.30 405.90 560.80 Q404.30 560.80 404.30 559.20 Q404.30 557.60 405.90 557.60Z" fill="#5a5a5a" filter="url(#b06)"/>
<rect x="425.00" y="551.90" width="21.50" height="13.90" fill="#e4e4e4"/>
<path d="M427.30 557.30 Q435.75 557.00 444.20 557.70 Q445.70 557.70 445.70 559.20 Q445.70 560.70 444.20 560.70 Q435.75 560.20 427.30 560.30 Q425.80 560.30 425.80 558.80 Q425.80 557.30 427.30 557.30Z" fill="#646464" filter="url(#b06)"/>
<rect x="446.50" y="551.90" width="23.00" height="13.90" fill="#e4e4e4"/>
<path d="M448.80 557.70 Q458.00 557.00 467.20 557.30 Q468.70 557.30 468.70 558.80 Q468.70 560.30 467.20 560.30 Q458.00 560.20 448.80 560.70 Q447.30 560.70 447.30 559.20 Q447.30 557.70 448.80 557.70Z" fill="#6c6c6c" filter="url(#b06)"/>
<rect x="147.30" y="551.90" width="1.4" height="13.90" fill="#ececec" opacity="0.6" filter="url(#b04)"/>
<rect x="170.30" y="551.90" width="1.4" height="13.90" fill="#ececec" opacity="0.6" filter="url(#b04)"/>
<rect x="191.30" y="551.90" width="1.4" height="13.90" fill="#ececec" opacity="0.6" filter="url(#b04)"/>
<rect x="213.80" y="551.90" width="1.4" height="13.90" fill="#ececec" opacity="0.6" filter="url(#b04)"/>
<rect x="234.80" y="551.90" width="1.4" height="13.90" fill="#ececec" opacity="0.6" filter="url(#b04)"/>
<rect x="255.60" y="551.90" width="1.4" height="13.90" fill="#ececec" opacity="0.6" filter="url(#b04)"/>
<rect x="275.80" y="551.90" width="1.4" height="13.90" fill="#ececec" opacity="0.6" filter="url(#b04)"/>
<rect x="296.30" y="551.90" width="1.4" height="13.90" fill="#ececec" opacity="0.6" filter="url(#b04)"/>
<rect x="317.30" y="551.90" width="1.4" height="13.90" fill="#ececec" opacity="0.6" filter="url(#b04)"/>
<rect x="338.50" y="551.90" width="1.4" height="13.90" fill="#ececec" opacity="0.6" filter="url(#b04)"/>
<rect x="359.80" y="551.90" width="1.4" height="13.90" fill="#ececec" opacity="0.6" filter="url(#b04)"/>
<rect x="381.30" y="551.90" width="1.4" height="13.90" fill="#ececec" opacity="0.6" filter="url(#b04)"/>
<rect x="402.80" y="551.90" width="1.4" height="13.90" fill="#ececec" opacity="0.6" filter="url(#b04)"/>
<rect x="424.30" y="551.90" width="1.4" height="13.90" fill="#ececec" opacity="0.6" filter="url(#b04)"/>
<rect x="445.80" y="551.90" width="1.4" height="13.90" fill="#ececec" opacity="0.6" filter="url(#b04)"/>
<rect x="124.40" y="551.90" width="345.10" height="13.90" fill="#000" opacity="0.05" filter="url(#noise)"/>
<rect x="124.40" y="572.20" width="345.10" height="14.10" fill="#e4e4e4"/>
<rect x="124.40" y="572.20" width="23.60" height="14.10" fill="#e4e4e4"/>
<rect x="148.00" y="572.20" width="23.00" height="14.10" fill="#e4e4e4"/>
<rect x="171.00" y="572.20" width="21.00" height="14.10" fill="#e4e4e4"/>
<rect x="192.00" y="572.20" width="22.50" height="14.10" fill="#e4e4e4"/>
<rect x="214.50" y="572.20" width="21.00" height="14.10" fill="#e4e4e4"/>
<rect x="235.50" y="572.20" width="20.80" height="14.10" fill="#e4e4e4"/>
<rect x="256.30" y="572.20" width="20.20" height="14.10" fill="#e4e4e4"/>
<rect x="276.50" y="572.20" width="20.50" height="14.10" fill="#e4e4e4"/>
<rect x="297.00" y="572.20" width="21.00" height="14.10" fill="#e4e4e4"/>
<rect x="318.00" y="572.20" width="21.20" height="14.10" fill="#e4e4e4"/>
<rect x="339.20" y="572.20" width="21.30" height="14.10" fill="#e4e4e4"/>
<rect x="360.50" y="572.20" width="21.50" height="14.10" fill="#e4e4e4"/>
<rect x="382.00" y="572.20" width="21.50" height="14.10" fill="#e4e4e4"/>
<rect x="403.50" y="572.20" width="21.50" height="14.10" fill="#e4e4e4"/>
<rect x="425.00" y="572.20" width="21.50" height="14.10" fill="#e4e4e4"/>
<rect x="446.50" y="572.20" width="23.00" height="14.10" fill="#e4e4e4"/>
<path d="M125.70 579.50 L136.20 578.20 L147.20 578.90 L148.80 579.20 L159.50 578.50 L170.20 579.20 L171.80 578.60 L181.50 577.90 L191.20 578.60 L192.80 578.50 L203.25 577.80 L213.70 578.50 L215.30 578.10 L225.00 577.40 L234.70 578.10 L236.30 577.90 L245.90 577.20 L255.50 577.90 L257.10 577.70 L266.40 577.00 L275.70 577.70 L277.30 577.90 L286.75 577.20 L296.20 577.90 L297.80 578.10 L307.50 577.40 L317.20 578.10 L318.80 578.20 L328.60 577.50 L338.40 578.20 L340.00 578.40 L349.85 577.70 L359.70 578.40 L361.30 578.30 L371.25 577.60 L381.20 578.30 L382.80 578.50 L392.75 577.80 L402.70 578.50 L404.30 578.30 L414.25 577.60 L424.20 578.30 L425.80 578.60 L435.75 577.90 L445.70 578.60 L447.30 578.90 L458.00 578.20 L468.70 578.90 L468.70 583.00 L458.00 582.80 L447.30 583.00 L445.70 582.70 L435.75 582.50 L425.80 582.70 L424.20 582.40 L414.25 582.20 L404.30 582.40 L402.70 582.60 L392.75 582.40 L382.80 582.60 L381.20 582.40 L371.25 582.20 L361.30 582.40 L359.70 582.50 L349.85 582.30 L340.00 582.50 L338.40 582.30 L328.60 582.10 L318.80 582.30 L317.20 582.20 L307.50 582.00 L297.80 582.20 L296.20 582.00 L286.75 581.80 L277.30 582.00 L275.70 581.80 L266.40 581.60 L257.10 581.80 L255.50 582.00 L245.90 581.80 L236.30 582.00 L234.70 582.20 L225.00 582.00 L215.30 582.20 L213.70 582.60 L203.25 582.40 L192.80 582.60 L191.20 582.70 L181.50 582.50 L171.80 582.70 L170.20 583.30 L159.50 583.10 L148.80 583.30 L147.20 583.00 L136.20 582.80 L125.70 582.60Z" fill="#101010" filter="url(#b06)"/>
<rect x="147.30" y="572.20" width="1.4" height="14.10" fill="#ececec" opacity="0.6" filter="url(#b04)"/>
<rect x="170.30" y="572.20" width="1.4" height="14.10" fill="#ececec" opacity="0.6" filter="url(#b04)"/>
<rect x="191.30" y="572.20" width="1.4" height="14.10" fill="#ececec" opacity="0.6" filter="url(#b04)"/>
<rect x="213.80" y="572.20" width="1.4" height="14.10" fill="#ececec" opacity="0.6" filter="url(#b04)"/>
<rect x="234.80" y="572.20" width="1.4" height="14.10" fill="#ececec" opacity="0.6" filter="url(#b04)"/>
<rect x="255.60" y="572.20" width="1.4" height="14.10" fill="#ececec" opacity="0.6" filter="url(#b04)"/>
<rect x="275.80" y="572.20" width="1.4" height="14.10" fill="#ececec" opacity="0.6" filter="url(#b04)"/>
<rect x="296.30" y="572.20" width="1.4" height="14.10" fill="#ececec" opacity="0.6" filter="url(#b04)"/>
<rect x="317.30" y="572.20" width="1.4" height="14.10" fill="#ececec" opacity="0.6" filter="url(#b04)"/>
<rect x="338.50" y="572.20" width="1.4" height="14.10" fill="#ececec" opacity="0.6" filter="url(#b04)"/>
<rect x="359.80" y="572.20" width="1.4" height="14.10" fill="#ececec" opacity="0.6" filter="url(#b04)"/>
<rect x="381.30" y="572.20" width="1.4" height="14.10" fill="#ececec" opacity="0.6" filter="url(#b04)"/>
<rect x="402.80" y="572.20" width="1.4" height="14.10" fill="#ececec" opacity="0.6" filter="url(#b04)"/>
<rect x="424.30" y="572.20" width="1.4" height="14.10" fill="#ececec" opacity="0.6" filter="url(#b04)"/>
<rect x="445.80" y="572.20" width="1.4" height="14.10" fill="#ececec" opacity="0.6" filter="url(#b04)"/>
<rect x="124.40" y="572.20" width="345.10" height="14.10" fill="#000" opacity="0.05" filter="url(#noise)"/>
<text x="-0.50" y="235.20" font-size="17" text-anchor="start" font-weight="bold" fill="#000" stroke="#000" stroke-width="0.2">C</text>
<rect x="35.20" y="227.70" width="197.60" height="111.10" fill="none" stroke="#4a4a4a" stroke-width="1"/>
<line x1="35.20" y1="338.80" x2="35.20" y2="336.30" stroke="#4a4a4a" stroke-width="0.8"/>
<line x1="35.20" y1="227.70" x2="35.20" y2="230.20" stroke="#4a4a4a" stroke-width="0.8"/>
<text x="35.20" y="348.50" font-size="6.6" text-anchor="middle" font-weight="normal" fill="#2e2e2e" stroke="#2e2e2e" stroke-width="0.2">0</text>
<line x1="86.50" y1="338.80" x2="86.50" y2="336.30" stroke="#4a4a4a" stroke-width="0.8"/>
<line x1="86.50" y1="227.70" x2="86.50" y2="230.20" stroke="#4a4a4a" stroke-width="0.8"/>
<text x="86.50" y="348.50" font-size="6.6" text-anchor="middle" font-weight="normal" fill="#2e2e2e" stroke="#2e2e2e" stroke-width="0.2">0.2</text>
<line x1="137.80" y1="338.80" x2="137.80" y2="336.30" stroke="#4a4a4a" stroke-width="0.8"/>
<line x1="137.80" y1="227.70" x2="137.80" y2="230.20" stroke="#4a4a4a" stroke-width="0.8"/>
<text x="137.80" y="348.50" font-size="6.6" text-anchor="middle" font-weight="normal" fill="#2e2e2e" stroke="#2e2e2e" stroke-width="0.2">0.4</text>
<line x1="189.10" y1="338.80" x2="189.10" y2="336.30" stroke="#4a4a4a" stroke-width="0.8"/>
<line x1="189.10" y1="227.70" x2="189.10" y2="230.20" stroke="#4a4a4a" stroke-width="0.8"/>
<text x="189.10" y="348.50" font-size="6.6" text-anchor="middle" font-weight="normal" fill="#2e2e2e" stroke="#2e2e2e" stroke-width="0.2">0.6</text>
<line x1="35.20" y1="338.70" x2="37.70" y2="338.70" stroke="#4a4a4a" stroke-width="0.8"/>
<line x1="232.80" y1="338.70" x2="230.30" y2="338.70" stroke="#4a4a4a" stroke-width="0.8"/>
<text x="31.60" y="341.10" font-size="6.6" text-anchor="end" font-weight="normal" fill="#2e2e2e" stroke="#2e2e2e" stroke-width="0.2">0</text>
<line x1="35.20" y1="316.50" x2="37.70" y2="316.50" stroke="#4a4a4a" stroke-width="0.8"/>
<line x1="232.80" y1="316.50" x2="230.30" y2="316.50" stroke="#4a4a4a" stroke-width="0.8"/>
<text x="31.60" y="318.90" font-size="6.6" text-anchor="end" font-weight="normal" fill="#2e2e2e" stroke="#2e2e2e" stroke-width="0.2">1</text>
<line x1="35.20" y1="294.30" x2="37.70" y2="294.30" stroke="#4a4a4a" stroke-width="0.8"/>
<line x1="232.80" y1="294.30" x2="230.30" y2="294.30" stroke="#4a4a4a" stroke-width="0.8"/>
<text x="31.60" y="296.70" font-size="6.6" text-anchor="end" font-weight="normal" fill="#2e2e2e" stroke="#2e2e2e" stroke-width="0.2">2</text>
<line x1="35.20" y1="272.10" x2="37.70" y2="272.10" stroke="#4a4a4a" stroke-width="0.8"/>
<line x1="232.80" y1="272.10" x2="230.30" y2="272.10" stroke="#4a4a4a" stroke-width="0.8"/>
<text x="31.60" y="274.50" font-size="6.6" text-anchor="end" font-weight="normal" fill="#2e2e2e" stroke="#2e2e2e" stroke-width="0.2">3</text>
<line x1="35.20" y1="249.90" x2="37.70" y2="249.90" stroke="#4a4a4a" stroke-width="0.8"/>
<line x1="232.80" y1="249.90" x2="230.30" y2="249.90" stroke="#4a4a4a" stroke-width="0.8"/>
<text x="31.60" y="252.30" font-size="6.6" text-anchor="end" font-weight="normal" fill="#2e2e2e" stroke="#2e2e2e" stroke-width="0.2">4</text>
<line x1="35.20" y1="227.70" x2="37.70" y2="227.70" stroke="#4a4a4a" stroke-width="0.8"/>
<line x1="232.80" y1="227.70" x2="230.30" y2="227.70" stroke="#4a4a4a" stroke-width="0.8"/>
<text x="31.60" y="230.10" font-size="6.6" text-anchor="end" font-weight="normal" fill="#2e2e2e" stroke="#2e2e2e" stroke-width="0.2">5</text>
<text x="22.20" y="288.20" font-size="11.2" text-anchor="middle" font-weight="normal" fill="#161616" stroke="#161616" stroke-width="0.2" transform="rotate(-90 22.20 288.20)">pPLC&#947; (AU)</text>
<text x="13.00" y="363.60" font-size="11.38" text-anchor="start" font-weight="normal" fill="#161616" stroke="#161616" stroke-width="0.2">pY1054-VEGFR-2 (10<tspan font-size="6" dy="-4.5">5</tspan><tspan dy="4.5"> surface receptors/cell)</tspan></text>
<line x1="118.00" y1="258.40" x2="224.70" y2="258.40" stroke="#20a848" stroke-width="1.45"/>
<line x1="118.00" y1="257.30" x2="118.00" y2="259.50" stroke="#20a848" stroke-width="1.6"/>
<line x1="224.70" y1="257.30" x2="224.70" y2="259.50" stroke="#20a848" stroke-width="1.6"/>
<line x1="170.50" y1="252.50" x2="170.50" y2="264.50" stroke="#20a848" stroke-width="1.45"/>
<line x1="169.40" y1="252.50" x2="171.60" y2="252.50" stroke="#20a848" stroke-width="1.6"/>
<line x1="169.40" y1="264.50" x2="171.60" y2="264.50" stroke="#20a848" stroke-width="1.6"/>
<circle cx="170.50" cy="258.40" r="2.40" fill="#20a848"/>
<line x1="150.00" y1="259.20" x2="220.00" y2="259.20" stroke="#20a848" stroke-width="1.45"/>
<line x1="150.00" y1="258.10" x2="150.00" y2="260.30" stroke="#20a848" stroke-width="1.6"/>
<line x1="220.00" y1="258.10" x2="220.00" y2="260.30" stroke="#20a848" stroke-width="1.6"/>
<line x1="182.70" y1="237.00" x2="182.70" y2="279.80" stroke="#20a848" stroke-width="1.45"/>
<line x1="181.60" y1="237.00" x2="183.80" y2="237.00" stroke="#20a848" stroke-width="1.6"/>
<line x1="181.60" y1="279.80" x2="183.80" y2="279.80" stroke="#20a848" stroke-width="1.6"/>
<circle cx="182.70" cy="259.20" r="2.40" fill="#20a848"/>
<line x1="123.70" y1="289.50" x2="157.20" y2="289.50" stroke="#20a848" stroke-width="1.45"/>
<line x1="123.70" y1="288.40" x2="123.70" y2="290.60" stroke="#20a848" stroke-width="1.6"/>
<line x1="157.20" y1="288.40" x2="157.20" y2="290.60" stroke="#20a848" stroke-width="1.6"/>
<circle cx="139.90" cy="289.50" r="2.40" fill="#20a848"/>
<line x1="82.90" y1="307.10" x2="115.60" y2="307.10" stroke="#20a848" stroke-width="1.45"/>
<line x1="82.90" y1="306.00" x2="82.90" y2="308.20" stroke="#20a848" stroke-width="1.6"/>
<line x1="115.60" y1="306.00" x2="115.60" y2="308.20" stroke="#20a848" stroke-width="1.6"/>
<line x1="99.60" y1="302.70" x2="99.60" y2="310.00" stroke="#20a848" stroke-width="1.45"/>
<line x1="98.50" y1="302.70" x2="100.70" y2="302.70" stroke="#20a848" stroke-width="1.6"/>
<line x1="98.50" y1="310.00" x2="100.70" y2="310.00" stroke="#20a848" stroke-width="1.6"/>
<circle cx="99.60" cy="307.10" r="2.40" fill="#20a848"/>
<line x1="73.80" y1="316.30" x2="122.70" y2="316.30" stroke="#20a848" stroke-width="1.45"/>
<line x1="73.80" y1="315.20" x2="73.80" y2="317.40" stroke="#20a848" stroke-width="1.6"/>
<line x1="122.70" y1="315.20" x2="122.70" y2="317.40" stroke="#20a848" stroke-width="1.6"/>
<circle cx="98.00" cy="316.30" r="2.40" fill="#20a848"/>
<line x1="55.00" y1="326.30" x2="80.00" y2="326.30" stroke="#20a848" stroke-width="1.45"/>
<line x1="55.00" y1="325.20" x2="55.00" y2="327.40" stroke="#20a848" stroke-width="1.6"/>
<line x1="80.00" y1="325.20" x2="80.00" y2="327.40" stroke="#20a848" stroke-width="1.6"/>
<line x1="67.50" y1="322.00" x2="67.50" y2="330.00" stroke="#20a848" stroke-width="1.45"/>
<line x1="66.40" y1="322.00" x2="68.60" y2="322.00" stroke="#20a848" stroke-width="1.6"/>
<line x1="66.40" y1="330.00" x2="68.60" y2="330.00" stroke="#20a848" stroke-width="1.6"/>
<circle cx="67.50" cy="326.30" r="2.40" fill="#20a848"/>
<line x1="48.00" y1="332.00" x2="70.00" y2="332.00" stroke="#20a848" stroke-width="1.45"/>
<line x1="48.00" y1="330.90" x2="48.00" y2="333.10" stroke="#20a848" stroke-width="1.6"/>
<line x1="70.00" y1="330.90" x2="70.00" y2="333.10" stroke="#20a848" stroke-width="1.6"/>
<circle cx="58.80" cy="332.00" r="2.40" fill="#20a848"/>
<line x1="40.00" y1="334.50" x2="58.00" y2="334.50" stroke="#20a848" stroke-width="1.45"/>
<line x1="40.00" y1="333.40" x2="40.00" y2="335.60" stroke="#20a848" stroke-width="1.6"/>
<line x1="58.00" y1="333.40" x2="58.00" y2="335.60" stroke="#20a848" stroke-width="1.6"/>
<circle cx="48.00" cy="334.50" r="2.40" fill="#20a848"/>
<line x1="60.00" y1="322.00" x2="88.00" y2="322.00" stroke="#20a848" stroke-width="1.45"/>
<line x1="60.00" y1="320.90" x2="60.00" y2="323.10" stroke="#20a848" stroke-width="1.6"/>
<line x1="88.00" y1="320.90" x2="88.00" y2="323.10" stroke="#20a848" stroke-width="1.6"/>
<line x1="75.00" y1="318.00" x2="75.00" y2="326.00" stroke="#20a848" stroke-width="1.45"/>
<line x1="73.90" y1="318.00" x2="76.10" y2="318.00" stroke="#20a848" stroke-width="1.6"/>
<line x1="73.90" y1="326.00" x2="76.10" y2="326.00" stroke="#20a848" stroke-width="1.6"/>
<circle cx="75.00" cy="322.00" r="2.40" fill="#20a848"/>
<line x1="68.50" y1="322.50" x2="101.50" y2="322.50" stroke="#e0202e" stroke-width="1.45"/>
<line x1="68.50" y1="321.40" x2="68.50" y2="323.60" stroke="#e0202e" stroke-width="1.6"/>
<line x1="101.50" y1="321.40" x2="101.50" y2="323.60" stroke="#e0202e" stroke-width="1.6"/>
<line x1="90.60" y1="311.90" x2="90.60" y2="334.00" stroke="#e0202e" stroke-width="1.45"/>
<line x1="89.50" y1="311.90" x2="91.70" y2="311.90" stroke="#e0202e" stroke-width="1.6"/>
<line x1="89.50" y1="334.00" x2="91.70" y2="334.00" stroke="#e0202e" stroke-width="1.6"/>
<path d="M90.60 319.70 L93.60 324.30 L87.60 324.30Z" fill="#e0202e"/>
<line x1="68.50" y1="318.70" x2="96.30" y2="318.70" stroke="#e0202e" stroke-width="1.45"/>
<line x1="68.50" y1="317.60" x2="68.50" y2="319.80" stroke="#e0202e" stroke-width="1.6"/>
<line x1="96.30" y1="317.60" x2="96.30" y2="319.80" stroke="#e0202e" stroke-width="1.6"/>
<line x1="83.80" y1="312.00" x2="83.80" y2="325.00" stroke="#e0202e" stroke-width="1.45"/>
<line x1="82.70" y1="312.00" x2="84.90" y2="312.00" stroke="#e0202e" stroke-width="1.6"/>
<line x1="82.70" y1="325.00" x2="84.90" y2="325.00" stroke="#e0202e" stroke-width="1.6"/>
<path d="M83.80 315.90 L86.80 320.50 L80.80 320.50Z" fill="#e0202e"/>
<line x1="60.00" y1="325.40" x2="78.00" y2="325.40" stroke="#e0202e" stroke-width="1.45"/>
<line x1="60.00" y1="324.30" x2="60.00" y2="326.50" stroke="#e0202e" stroke-width="1.6"/>
<line x1="78.00" y1="324.30" x2="78.00" y2="326.50" stroke="#e0202e" stroke-width="1.6"/>
<line x1="68.50" y1="321.00" x2="68.50" y2="330.00" stroke="#e0202e" stroke-width="1.45"/>
<line x1="67.40" y1="321.00" x2="69.60" y2="321.00" stroke="#e0202e" stroke-width="1.6"/>
<line x1="67.40" y1="330.00" x2="69.60" y2="330.00" stroke="#e0202e" stroke-width="1.6"/>
<path d="M68.50 322.60 L71.50 327.20 L65.50 327.20Z" fill="#e0202e"/>
<line x1="66.00" y1="327.30" x2="84.00" y2="327.30" stroke="#e0202e" stroke-width="1.45"/>
<line x1="66.00" y1="326.20" x2="66.00" y2="328.40" stroke="#e0202e" stroke-width="1.6"/>
<line x1="84.00" y1="326.20" x2="84.00" y2="328.40" stroke="#e0202e" stroke-width="1.6"/>
<line x1="75.20" y1="323.00" x2="75.20" y2="331.00" stroke="#e0202e" stroke-width="1.45"/>
<line x1="74.10" y1="323.00" x2="76.30" y2="323.00" stroke="#e0202e" stroke-width="1.6"/>
<line x1="74.10" y1="331.00" x2="76.30" y2="331.00" stroke="#e0202e" stroke-width="1.6"/>
<path d="M75.20 324.50 L78.20 329.10 L72.20 329.10Z" fill="#e0202e"/>
<line x1="55.00" y1="330.00" x2="70.00" y2="330.00" stroke="#e0202e" stroke-width="1.45"/>
<line x1="55.00" y1="328.90" x2="55.00" y2="331.10" stroke="#e0202e" stroke-width="1.6"/>
<line x1="70.00" y1="328.90" x2="70.00" y2="331.10" stroke="#e0202e" stroke-width="1.6"/>
<line x1="62.00" y1="327.00" x2="62.00" y2="333.00" stroke="#e0202e" stroke-width="1.45"/>
<line x1="60.90" y1="327.00" x2="63.10" y2="327.00" stroke="#e0202e" stroke-width="1.6"/>
<line x1="60.90" y1="333.00" x2="63.10" y2="333.00" stroke="#e0202e" stroke-width="1.6"/>
<path d="M62.00 327.20 L65.00 331.80 L59.00 331.80Z" fill="#e0202e"/>
<line x1="45.00" y1="334.00" x2="60.00" y2="334.00" stroke="#e0202e" stroke-width="1.45"/>
<line x1="45.00" y1="332.90" x2="45.00" y2="335.10" stroke="#e0202e" stroke-width="1.6"/>
<line x1="60.00" y1="332.90" x2="60.00" y2="335.10" stroke="#e0202e" stroke-width="1.6"/>
<path d="M52.00 331.20 L55.00 335.80 L49.00 335.80Z" fill="#e0202e"/>
<path d="M35.20 337.96 L38.48 337.54 L41.77 337.01 L45.05 336.37 L48.34 335.63 L51.62 334.78 L54.91 333.84 L58.19 332.80 L61.48 331.68 L64.76 330.46 L68.05 329.16 L71.33 327.77 L74.62 326.31 L77.90 324.77 L81.19 323.16 L84.47 321.47 L87.76 319.73 L91.04 317.92 L94.33 316.05 L97.61 314.12 L100.89 312.14 L104.18 310.12 L107.46 308.04 L110.75 305.92 L114.03 303.76 L117.32 301.57 L120.60 299.34 L123.89 297.08 L127.17 294.79 L130.46 292.48 L133.74 290.15 L137.03 287.80 L140.31 285.44 L143.60 283.07 L146.88 280.68 L150.17 278.30 L153.45 275.91 L156.74 273.52 L160.02 271.14 L163.31 268.77 L166.59 266.41 L169.87 264.06 L173.16 261.73 L176.44 259.43 L179.73 257.14 L183.01 254.89 L186.30 252.66 L189.58 250.47 L192.87 248.32 L196.15 246.21 L199.44 244.14 L202.72 242.12 L206.01 240.15 L209.29 238.23 L212.58 236.37 L215.86 234.57 L219.15 232.83 L222.43 231.16 L225.72 229.56 L229.00 228.03" fill="none" stroke="#1a5aaa" stroke-width="5.0" stroke-linecap="round" stroke-linejoin="round"/>
<text x="71.40" y="244.60" font-size="6.8" text-anchor="end" font-weight="normal" fill="#222" stroke="#222" stroke-width="0.2">S data</text>
<line x1="74.60" y1="242.40" x2="92.80" y2="242.40" stroke="#e0202e" stroke-width="1.6"/>
<line x1="74.90" y1="241.40" x2="74.90" y2="243.40" stroke="#e0202e" stroke-width="1.4"/>
<line x1="92.50" y1="241.40" x2="92.50" y2="243.40" stroke="#e0202e" stroke-width="1.4"/>
<path d="M83.70 239.50 L86.80 244.20 L80.60 244.20Z" fill="#e0202e"/>
<text x="71.40" y="252.20" font-size="6.8" text-anchor="end" font-weight="normal" fill="#222" stroke="#222" stroke-width="0.2">LC data</text>
<line x1="74.60" y1="250.00" x2="92.80" y2="250.00" stroke="#20a848" stroke-width="1.6"/>
<line x1="74.90" y1="249.00" x2="74.90" y2="251.00" stroke="#20a848" stroke-width="1.4"/>
<line x1="92.50" y1="249.00" x2="92.50" y2="251.00" stroke="#20a848" stroke-width="1.4"/>
<path d="M81.50 247.60 L85.90 252.40 M85.90 247.60 L81.50 252.40" stroke="#20a848" stroke-width="1.9"/>
<text x="71.40" y="259.90" font-size="6.8" text-anchor="end" font-weight="normal" fill="#222" stroke="#222" stroke-width="0.2">model</text>
<rect x="75.00" y="255.90" width="17.20" height="3.6" fill="#1a5aaa"/>
<text x="281.00" y="235.20" font-size="17" text-anchor="start" font-weight="bold" fill="#000" stroke="#000" stroke-width="0.2">D</text>
<rect x="317.60" y="227.90" width="197.60" height="111.00" fill="none" stroke="#4a4a4a" stroke-width="1"/>
<line x1="317.60" y1="338.90" x2="317.60" y2="336.40" stroke="#4a4a4a" stroke-width="0.8"/>
<line x1="317.60" y1="227.90" x2="317.60" y2="230.40" stroke="#4a4a4a" stroke-width="0.8"/>
<text x="317.60" y="348.60" font-size="6.6" text-anchor="middle" font-weight="normal" fill="#333" stroke="#333" stroke-width="0.15">0</text>
<line x1="357.05" y1="338.90" x2="357.05" y2="336.40" stroke="#4a4a4a" stroke-width="0.8"/>
<line x1="357.05" y1="227.90" x2="357.05" y2="230.40" stroke="#4a4a4a" stroke-width="0.8"/>
<text x="357.05" y="348.60" font-size="6.6" text-anchor="middle" font-weight="normal" fill="#333" stroke="#333" stroke-width="0.15">0.25</text>
<line x1="396.50" y1="338.90" x2="396.50" y2="336.40" stroke="#4a4a4a" stroke-width="0.8"/>
<line x1="396.50" y1="227.90" x2="396.50" y2="230.40" stroke="#4a4a4a" stroke-width="0.8"/>
<text x="396.50" y="348.60" font-size="6.6" text-anchor="middle" font-weight="normal" fill="#333" stroke="#333" stroke-width="0.15">0.5</text>
<line x1="435.95" y1="338.90" x2="435.95" y2="336.40" stroke="#4a4a4a" stroke-width="0.8"/>
<line x1="435.95" y1="227.90" x2="435.95" y2="230.40" stroke="#4a4a4a" stroke-width="0.8"/>
<text x="435.95" y="348.60" font-size="6.6" text-anchor="middle" font-weight="normal" fill="#333" stroke="#333" stroke-width="0.15">0.75</text>
<line x1="475.40" y1="338.90" x2="475.40" y2="336.40" stroke="#4a4a4a" stroke-width="0.8"/>
<line x1="475.40" y1="227.90" x2="475.40" y2="230.40" stroke="#4a4a4a" stroke-width="0.8"/>
<text x="475.40" y="348.60" font-size="6.6" text-anchor="middle" font-weight="normal" fill="#333" stroke="#333" stroke-width="0.15">1</text>
<line x1="514.85" y1="338.90" x2="514.85" y2="336.40" stroke="#4a4a4a" stroke-width="0.8"/>
<line x1="514.85" y1="227.90" x2="514.85" y2="230.40" stroke="#4a4a4a" stroke-width="0.8"/>
<text x="514.85" y="348.60" font-size="6.6" text-anchor="middle" font-weight="normal" fill="#333" stroke="#333" stroke-width="0.15">1.25</text>
<line x1="317.60" y1="338.70" x2="320.10" y2="338.70" stroke="#4a4a4a" stroke-width="0.8"/>
<line x1="515.20" y1="338.70" x2="512.70" y2="338.70" stroke="#4a4a4a" stroke-width="0.8"/>
<text x="314.00" y="341.10" font-size="6.6" text-anchor="end" font-weight="normal" fill="#333" stroke="#333" stroke-width="0.15">0</text>
<line x1="317.60" y1="316.50" x2="320.10" y2="316.50" stroke="#4a4a4a" stroke-width="0.8"/>
<line x1="515.20" y1="316.50" x2="512.70" y2="316.50" stroke="#4a4a4a" stroke-width="0.8"/>
<text x="314.00" y="318.90" font-size="6.6" text-anchor="end" font-weight="normal" fill="#333" stroke="#333" stroke-width="0.15">1</text>
<line x1="317.60" y1="294.30" x2="320.10" y2="294.30" stroke="#4a4a4a" stroke-width="0.8"/>
<line x1="515.20" y1="294.30" x2="512.70" y2="294.30" stroke="#4a4a4a" stroke-width="0.8"/>
<text x="314.00" y="296.70" font-size="6.6" text-anchor="end" font-weight="normal" fill="#333" stroke="#333" stroke-width="0.15">2</text>
<line x1="317.60" y1="272.10" x2="320.10" y2="272.10" stroke="#4a4a4a" stroke-width="0.8"/>
<line x1="515.20" y1="272.10" x2="512.70" y2="272.10" stroke="#4a4a4a" stroke-width="0.8"/>
<text x="314.00" y="274.50" font-size="6.6" text-anchor="end" font-weight="normal" fill="#333" stroke="#333" stroke-width="0.15">3</text>
<line x1="317.60" y1="249.90" x2="320.10" y2="249.90" stroke="#4a4a4a" stroke-width="0.8"/>
<line x1="515.20" y1="249.90" x2="512.70" y2="249.90" stroke="#4a4a4a" stroke-width="0.8"/>
<text x="314.00" y="252.30" font-size="6.6" text-anchor="end" font-weight="normal" fill="#333" stroke="#333" stroke-width="0.15">4</text>
<line x1="317.60" y1="227.70" x2="320.10" y2="227.70" stroke="#4a4a4a" stroke-width="0.8"/>
<line x1="515.20" y1="227.70" x2="512.70" y2="227.70" stroke="#4a4a4a" stroke-width="0.8"/>
<text x="314.00" y="230.10" font-size="6.6" text-anchor="end" font-weight="normal" fill="#333" stroke="#333" stroke-width="0.15">5</text>
<text x="304.00" y="288.20" font-size="11.2" text-anchor="middle" font-weight="normal" fill="#161616" stroke="#161616" stroke-width="0.2" transform="rotate(-90 304.00 288.20)">pPLC&#947; (AU)</text>
<text x="417.80" y="364.30" font-size="11.6" text-anchor="middle" font-weight="normal" fill="#161616" stroke="#161616" stroke-width="0.2">VEGF (nM)</text>
<line x1="356.25" y1="316.50" x2="356.25" y2="326.00" stroke="#e0202e" stroke-width="1.45"/>
<line x1="355.15" y1="316.50" x2="357.35" y2="316.50" stroke="#e0202e" stroke-width="1.6"/>
<line x1="355.15" y1="326.00" x2="357.35" y2="326.00" stroke="#e0202e" stroke-width="1.6"/>
<path d="M356.25 317.70 L359.25 322.30 L353.25 322.30Z" fill="#e0202e"/>
<line x1="435.00" y1="312.00" x2="435.00" y2="334.50" stroke="#e0202e" stroke-width="1.45"/>
<line x1="433.90" y1="312.00" x2="436.10" y2="312.00" stroke="#e0202e" stroke-width="1.6"/>
<line x1="433.90" y1="334.50" x2="436.10" y2="334.50" stroke="#e0202e" stroke-width="1.6"/>
<path d="M435.00 318.70 L438.00 323.30 L432.00 323.30Z" fill="#e0202e"/>
<line x1="337.20" y1="316.00" x2="337.20" y2="321.00" stroke="#e0202e" stroke-width="1.45"/>
<line x1="336.10" y1="316.00" x2="338.30" y2="316.00" stroke="#e0202e" stroke-width="1.6"/>
<line x1="336.10" y1="321.00" x2="338.30" y2="321.00" stroke="#e0202e" stroke-width="1.6"/>
<path d="M337.20 315.70 L340.20 320.30 L334.20 320.30Z" fill="#e0202e"/>
<line x1="514.00" y1="322.50" x2="514.00" y2="333.00" stroke="#e0202e" stroke-width="1.45"/>
<line x1="512.90" y1="322.50" x2="515.10" y2="322.50" stroke="#e0202e" stroke-width="1.6"/>
<line x1="512.90" y1="333.00" x2="515.10" y2="333.00" stroke="#e0202e" stroke-width="1.6"/>
<path d="M514.00 323.70 L517.00 328.30 L511.00 328.30Z" fill="#e0202e"/>
<line x1="327.20" y1="318.00" x2="327.20" y2="322.00" stroke="#e0202e" stroke-width="1.45"/>
<line x1="326.10" y1="318.00" x2="328.30" y2="318.00" stroke="#e0202e" stroke-width="1.6"/>
<line x1="326.10" y1="322.00" x2="328.30" y2="322.00" stroke="#e0202e" stroke-width="1.6"/>
<path d="M327.20 317.20 L330.20 321.80 L324.20 321.80Z" fill="#e0202e"/>
<path d="M321.00 322.20 L324.00 326.80 L318.00 326.80Z" fill="#e0202e"/>
<path d="M317.80 330.20 L320.80 334.80 L314.80 334.80Z" fill="#e0202e"/>
<line x1="435.00" y1="237.00" x2="435.00" y2="280.50" stroke="#20a848" stroke-width="1.45"/>
<line x1="433.90" y1="237.00" x2="436.10" y2="237.00" stroke="#20a848" stroke-width="1.6"/>
<line x1="433.90" y1="280.50" x2="436.10" y2="280.50" stroke="#20a848" stroke-width="1.6"/>
<path d="M433.00 255.80 L437.00 260.20 M437.00 255.80 L433.00 260.20" stroke="#20a848" stroke-width="1.7"/>
<line x1="355.80" y1="286.00" x2="355.80" y2="290.00" stroke="#20a848" stroke-width="1.45"/>
<line x1="354.70" y1="286.00" x2="356.90" y2="286.00" stroke="#20a848" stroke-width="1.6"/>
<line x1="354.70" y1="290.00" x2="356.90" y2="290.00" stroke="#20a848" stroke-width="1.6"/>
<path d="M353.80 285.60 L357.80 290.00 M357.80 285.60 L353.80 290.00" stroke="#20a848" stroke-width="1.7"/>
<line x1="337.30" y1="301.50" x2="337.30" y2="310.80" stroke="#20a848" stroke-width="1.45"/>
<line x1="336.20" y1="301.50" x2="338.40" y2="301.50" stroke="#20a848" stroke-width="1.6"/>
<line x1="336.20" y1="310.80" x2="338.40" y2="310.80" stroke="#20a848" stroke-width="1.6"/>
<path d="M335.30 304.00 L339.30 308.40 M339.30 304.00 L335.30 308.40" stroke="#20a848" stroke-width="1.7"/>
<line x1="327.30" y1="312.30" x2="327.30" y2="317.70" stroke="#20a848" stroke-width="1.45"/>
<line x1="326.20" y1="312.30" x2="328.40" y2="312.30" stroke="#20a848" stroke-width="1.6"/>
<line x1="326.20" y1="317.70" x2="328.40" y2="317.70" stroke="#20a848" stroke-width="1.6"/>
<path d="M325.30 312.40 L329.30 316.80 M329.30 312.40 L325.30 316.80" stroke="#20a848" stroke-width="1.7"/>
<line x1="321.20" y1="320.50" x2="321.20" y2="326.00" stroke="#20a848" stroke-width="1.45"/>
<line x1="320.10" y1="320.50" x2="322.30" y2="320.50" stroke="#20a848" stroke-width="1.6"/>
<line x1="320.10" y1="326.00" x2="322.30" y2="326.00" stroke="#20a848" stroke-width="1.6"/>
<path d="M319.20 320.90 L323.20 325.30 M323.20 320.90 L319.20 325.30" stroke="#20a848" stroke-width="1.7"/>
<path d="M315.80 330.30 L319.80 334.70 M319.80 330.30 L315.80 334.70" stroke="#20a848" stroke-width="1.7"/>
<line x1="513.80" y1="253.00" x2="513.80" y2="265.00" stroke="#20a848" stroke-width="1.45"/>
<line x1="512.70" y1="253.00" x2="514.90" y2="253.00" stroke="#20a848" stroke-width="1.6"/>
<line x1="512.70" y1="265.00" x2="514.90" y2="265.00" stroke="#20a848" stroke-width="1.6"/>
<path d="M511.80 256.55 L515.80 260.95 M515.80 256.55 L511.80 260.95" stroke="#20a848" stroke-width="1.7"/>
<path d="M318.00 337.46 L318.18 337.00 L318.54 336.09 L319.03 334.87 L319.63 333.44 L320.33 331.88 L321.12 330.23 L321.99 328.56 L322.94 326.90 L323.96 325.29 L325.05 323.75 L326.22 322.31 L327.44 320.97 L328.73 319.74 L330.08 318.63 L331.49 317.64 L332.96 316.77 L334.49 316.01 L336.07 315.36 L337.70 314.81 L339.38 314.36 L341.12 314.00 L342.91 313.71 L344.74 313.51 L346.63 313.37 L348.56 313.29 L350.54 313.26 L352.56 313.29 L354.63 313.36 L356.75 313.47 L358.91 313.61 L361.11 313.78 L363.36 313.98 L365.65 314.20 L367.98 314.44 L370.35 314.70 L372.76 314.97 L375.22 315.25 L377.71 315.55 L380.25 315.85 L382.82 316.15 L385.43 316.46 L388.08 316.77 L390.77 317.09 L393.50 317.41 L396.26 317.72 L399.06 318.04 L401.90 318.35 L404.78 318.67 L407.69 318.98 L410.63 319.29 L413.62 319.59 L416.63 319.89 L419.69 320.19 L422.77 320.48 L425.89 320.77 L429.05 321.06 L432.24 321.34 L435.46 321.61 L438.72 321.89 L442.01 322.15 L445.33 322.41 L448.69 322.67 L452.08 322.92 L455.50 323.17 L458.95 323.41 L462.44 323.65 L465.96 323.89 L469.51 324.11 L473.09 324.34 L476.70 324.56 L480.34 324.78 L484.02 324.99 L487.72 325.19 L491.46 325.40 L495.22 325.60 L499.02 325.79 L502.84 325.98 L506.70 326.17 L510.58 326.35 L514.50 326.53" fill="none" stroke="#1a5aaa" stroke-width="4.3" stroke-linecap="round" stroke-linejoin="round"/>
<path d="M317.80 332.80 L318.08 332.40 L318.59 331.67 L319.26 330.74 L320.04 329.66 L320.93 328.47 L321.92 327.19 L322.99 325.85 L324.14 324.48 L325.36 323.09 L326.66 321.65 L328.02 320.11 L329.44 318.42 L330.93 316.60 L332.47 314.67 L334.07 312.66 L335.73 310.59 L337.44 308.43 L339.19 306.23 L341.00 304.03 L342.86 301.85 L344.76 299.65 L346.71 297.50 L348.70 295.49 L350.74 293.67 L352.82 291.97 L354.94 290.35 L357.10 288.77 L359.31 287.24 L361.55 285.77 L363.83 284.32 L366.15 282.88 L368.51 281.44 L370.90 280.01 L373.34 278.61 L375.81 277.26 L378.31 275.98 L380.85 274.74 L383.42 273.53 L386.03 272.35 L388.67 271.18 L391.34 270.01 L394.05 268.82 L396.79 267.64 L399.56 266.49 L402.36 265.41 L405.20 264.44 L408.06 263.55 L410.96 262.72 L413.89 261.94 L416.84 261.21 L419.83 260.54 L422.84 259.92 L425.89 259.35 L428.96 258.81 L432.06 258.29 L435.19 257.77 L438.35 257.23 L441.54 256.68 L444.75 256.13 L447.99 255.61 L451.26 255.11 L454.56 254.66 L457.88 254.24 L461.23 253.84 L464.60 253.47 L468.00 253.12 L471.43 252.79 L474.88 252.51 L478.36 252.25 L481.86 252.01 L485.39 251.79 L488.94 251.59 L492.52 251.41 L496.12 251.25 L499.75 251.11 L503.40 250.98 L507.08 250.87 L510.78 250.77 L514.50 250.70" fill="none" stroke="#66247f" stroke-width="4.3" stroke-linecap="round" stroke-linejoin="round"/>
<text x="356.30" y="241.10" font-size="6.8" text-anchor="end" font-weight="normal" fill="#222" stroke="#222" stroke-width="0.2">S data</text>
<line x1="362.20" y1="238.90" x2="380.40" y2="238.90" stroke="#e0202e" stroke-width="1.6"/>
<line x1="362.50" y1="237.90" x2="362.50" y2="239.90" stroke="#e0202e" stroke-width="1.4"/>
<line x1="380.10" y1="237.90" x2="380.10" y2="239.90" stroke="#e0202e" stroke-width="1.4"/>
<path d="M371.30 236.00 L374.40 240.70 L368.20 240.70Z" fill="#e0202e"/>
<text x="356.30" y="248.90" font-size="6.8" text-anchor="end" font-weight="normal" fill="#222" stroke="#222" stroke-width="0.2">LC data</text>
<line x1="362.20" y1="246.70" x2="380.40" y2="246.70" stroke="#20a848" stroke-width="1.6"/>
<line x1="362.50" y1="245.70" x2="362.50" y2="247.70" stroke="#20a848" stroke-width="1.4"/>
<line x1="380.10" y1="245.70" x2="380.10" y2="247.70" stroke="#20a848" stroke-width="1.4"/>
<path d="M369.10 244.30 L373.50 249.10 M373.50 244.30 L369.10 249.10" stroke="#20a848" stroke-width="1.9"/>
<text x="356.30" y="256.70" font-size="6.8" text-anchor="end" font-weight="normal" fill="#222" stroke="#222" stroke-width="0.2">S model</text>
<rect x="362.60" y="252.70" width="17.20" height="3.6" fill="#1a5aaa"/>
<text x="356.30" y="264.40" font-size="6.8" text-anchor="end" font-weight="normal" fill="#222" stroke="#222" stroke-width="0.2">LC model</text>
<rect x="362.60" y="260.40" width="17.20" height="3.6" fill="#66247f"/>
<text x="-0.50" y="625.20" font-size="17" text-anchor="start" font-weight="bold" fill="#000" stroke="#000" stroke-width="0.2">G</text>
<rect x="41.00" y="618.00" width="191.20" height="111.40" fill="none" stroke="#4a4a4a" stroke-width="1"/>
<line x1="41.00" y1="729.40" x2="41.00" y2="726.90" stroke="#4a4a4a" stroke-width="0.8"/>
<line x1="41.00" y1="618.00" x2="41.00" y2="620.50" stroke="#4a4a4a" stroke-width="0.8"/>
<text x="41.00" y="739.10" font-size="6.6" text-anchor="middle" font-weight="normal" fill="#2e2e2e" stroke="#2e2e2e" stroke-width="0.2">0</text>
<line x1="90.86" y1="729.40" x2="90.86" y2="726.90" stroke="#4a4a4a" stroke-width="0.8"/>
<line x1="90.86" y1="618.00" x2="90.86" y2="620.50" stroke="#4a4a4a" stroke-width="0.8"/>
<text x="90.86" y="739.10" font-size="6.6" text-anchor="middle" font-weight="normal" fill="#2e2e2e" stroke="#2e2e2e" stroke-width="0.2">0.2</text>
<line x1="140.72" y1="729.40" x2="140.72" y2="726.90" stroke="#4a4a4a" stroke-width="0.8"/>
<line x1="140.72" y1="618.00" x2="140.72" y2="620.50" stroke="#4a4a4a" stroke-width="0.8"/>
<text x="140.72" y="739.10" font-size="6.6" text-anchor="middle" font-weight="normal" fill="#2e2e2e" stroke="#2e2e2e" stroke-width="0.2">0.4</text>
<line x1="190.58" y1="729.40" x2="190.58" y2="726.90" stroke="#4a4a4a" stroke-width="0.8"/>
<line x1="190.58" y1="618.00" x2="190.58" y2="620.50" stroke="#4a4a4a" stroke-width="0.8"/>
<text x="190.58" y="739.10" font-size="6.6" text-anchor="middle" font-weight="normal" fill="#2e2e2e" stroke="#2e2e2e" stroke-width="0.2">0.6</text>
<line x1="41.00" y1="729.40" x2="43.50" y2="729.40" stroke="#4a4a4a" stroke-width="0.8"/>
<line x1="232.20" y1="729.40" x2="229.70" y2="729.40" stroke="#4a4a4a" stroke-width="0.8"/>
<text x="37.40" y="731.80" font-size="6.6" text-anchor="end" font-weight="normal" fill="#2e2e2e" stroke="#2e2e2e" stroke-width="0.2">0</text>
<line x1="41.00" y1="701.55" x2="43.50" y2="701.55" stroke="#4a4a4a" stroke-width="0.8"/>
<line x1="232.20" y1="701.55" x2="229.70" y2="701.55" stroke="#4a4a4a" stroke-width="0.8"/>
<text x="37.40" y="703.95" font-size="6.6" text-anchor="end" font-weight="normal" fill="#2e2e2e" stroke="#2e2e2e" stroke-width="0.2">0.5</text>
<line x1="41.00" y1="673.70" x2="43.50" y2="673.70" stroke="#4a4a4a" stroke-width="0.8"/>
<line x1="232.20" y1="673.70" x2="229.70" y2="673.70" stroke="#4a4a4a" stroke-width="0.8"/>
<text x="37.40" y="676.10" font-size="6.6" text-anchor="end" font-weight="normal" fill="#2e2e2e" stroke="#2e2e2e" stroke-width="0.2">1</text>
<line x1="41.00" y1="645.85" x2="43.50" y2="645.85" stroke="#4a4a4a" stroke-width="0.8"/>
<line x1="232.20" y1="645.85" x2="229.70" y2="645.85" stroke="#4a4a4a" stroke-width="0.8"/>
<text x="37.40" y="648.25" font-size="6.6" text-anchor="end" font-weight="normal" fill="#2e2e2e" stroke="#2e2e2e" stroke-width="0.2">1.5</text>
<line x1="41.00" y1="618.00" x2="43.50" y2="618.00" stroke="#4a4a4a" stroke-width="0.8"/>
<line x1="232.20" y1="618.00" x2="229.70" y2="618.00" stroke="#4a4a4a" stroke-width="0.8"/>
<text x="37.40" y="620.40" font-size="6.6" text-anchor="end" font-weight="normal" fill="#2e2e2e" stroke="#2e2e2e" stroke-width="0.2">2</text>
<text x="22.20" y="673.70" font-size="11.2" text-anchor="middle" font-weight="normal" fill="#161616" stroke="#161616" stroke-width="0.2" transform="rotate(-90 22.20 673.70)">pAkt (AU)</text>
<text x="13.00" y="753.60" font-size="11.38" text-anchor="start" font-weight="normal" fill="#161616" stroke="#161616" stroke-width="0.2">pY1054-VEGFR-2 (10<tspan font-size="6" dy="-4.5">5</tspan><tspan dy="4.5"> surface receptors/cell)</tspan></text>
<line x1="61.00" y1="706.30" x2="74.50" y2="706.30" stroke="#20a848" stroke-width="1.45"/>
<line x1="61.00" y1="705.20" x2="61.00" y2="707.40" stroke="#20a848" stroke-width="1.6"/>
<line x1="74.50" y1="705.20" x2="74.50" y2="707.40" stroke="#20a848" stroke-width="1.6"/>
<circle cx="64.90" cy="706.30" r="2.40" fill="#20a848"/>
<line x1="59.20" y1="674.20" x2="86.10" y2="674.20" stroke="#20a848" stroke-width="1.45"/>
<line x1="59.20" y1="673.10" x2="59.20" y2="675.30" stroke="#20a848" stroke-width="1.6"/>
<line x1="86.10" y1="673.10" x2="86.10" y2="675.30" stroke="#20a848" stroke-width="1.6"/>
<line x1="70.70" y1="669.80" x2="70.70" y2="678.50" stroke="#20a848" stroke-width="1.45"/>
<line x1="69.60" y1="669.80" x2="71.80" y2="669.80" stroke="#20a848" stroke-width="1.6"/>
<line x1="69.60" y1="678.50" x2="71.80" y2="678.50" stroke="#20a848" stroke-width="1.6"/>
<circle cx="70.70" cy="674.20" r="2.40" fill="#20a848"/>
<line x1="78.40" y1="672.30" x2="125.50" y2="672.30" stroke="#20a848" stroke-width="1.45"/>
<line x1="78.40" y1="671.20" x2="78.40" y2="673.40" stroke="#20a848" stroke-width="1.6"/>
<line x1="125.50" y1="671.20" x2="125.50" y2="673.40" stroke="#20a848" stroke-width="1.6"/>
<line x1="102.40" y1="667.00" x2="102.40" y2="678.50" stroke="#20a848" stroke-width="1.45"/>
<line x1="101.30" y1="667.00" x2="103.50" y2="667.00" stroke="#20a848" stroke-width="1.6"/>
<line x1="101.30" y1="678.50" x2="103.50" y2="678.50" stroke="#20a848" stroke-width="1.6"/>
<circle cx="102.40" cy="672.30" r="2.40" fill="#20a848"/>
<line x1="87.60" y1="663.10" x2="119.70" y2="663.10" stroke="#20a848" stroke-width="1.45"/>
<line x1="87.60" y1="662.00" x2="87.60" y2="664.20" stroke="#20a848" stroke-width="1.6"/>
<line x1="119.70" y1="662.00" x2="119.70" y2="664.20" stroke="#20a848" stroke-width="1.6"/>
<line x1="103.40" y1="658.80" x2="103.40" y2="667.90" stroke="#20a848" stroke-width="1.45"/>
<line x1="102.30" y1="658.80" x2="104.50" y2="658.80" stroke="#20a848" stroke-width="1.6"/>
<line x1="102.30" y1="667.90" x2="104.50" y2="667.90" stroke="#20a848" stroke-width="1.6"/>
<circle cx="103.40" cy="663.10" r="2.40" fill="#20a848"/>
<line x1="126.50" y1="629.50" x2="159.50" y2="629.50" stroke="#20a848" stroke-width="1.45"/>
<line x1="126.50" y1="628.40" x2="126.50" y2="630.60" stroke="#20a848" stroke-width="1.6"/>
<line x1="159.50" y1="628.40" x2="159.50" y2="630.60" stroke="#20a848" stroke-width="1.6"/>
<line x1="142.50" y1="621.30" x2="142.50" y2="637.00" stroke="#20a848" stroke-width="1.45"/>
<line x1="141.40" y1="621.30" x2="143.60" y2="621.30" stroke="#20a848" stroke-width="1.6"/>
<line x1="141.40" y1="637.00" x2="143.60" y2="637.00" stroke="#20a848" stroke-width="1.6"/>
<circle cx="142.50" cy="629.50" r="2.40" fill="#20a848"/>
<line x1="121.30" y1="636.30" x2="224.50" y2="636.30" stroke="#20a848" stroke-width="1.45"/>
<line x1="121.30" y1="635.20" x2="121.30" y2="637.40" stroke="#20a848" stroke-width="1.6"/>
<line x1="224.50" y1="635.20" x2="224.50" y2="637.40" stroke="#20a848" stroke-width="1.6"/>
<line x1="172.50" y1="629.50" x2="172.50" y2="643.00" stroke="#20a848" stroke-width="1.45"/>
<line x1="171.40" y1="629.50" x2="173.60" y2="629.50" stroke="#20a848" stroke-width="1.6"/>
<line x1="171.40" y1="643.00" x2="173.60" y2="643.00" stroke="#20a848" stroke-width="1.6"/>
<circle cx="172.50" cy="636.30" r="2.40" fill="#20a848"/>
<line x1="150.00" y1="638.80" x2="216.00" y2="638.80" stroke="#20a848" stroke-width="1.45"/>
<line x1="150.00" y1="637.70" x2="150.00" y2="639.90" stroke="#20a848" stroke-width="1.6"/>
<line x1="216.00" y1="637.70" x2="216.00" y2="639.90" stroke="#20a848" stroke-width="1.6"/>
<line x1="183.00" y1="627.00" x2="183.00" y2="651.30" stroke="#20a848" stroke-width="1.45"/>
<line x1="181.90" y1="627.00" x2="184.10" y2="627.00" stroke="#20a848" stroke-width="1.6"/>
<line x1="181.90" y1="651.30" x2="184.10" y2="651.30" stroke="#20a848" stroke-width="1.6"/>
<circle cx="183.00" cy="638.80" r="2.40" fill="#20a848"/>
<line x1="43.80" y1="712.10" x2="64.00" y2="712.10" stroke="#e0202e" stroke-width="1.45"/>
<line x1="43.80" y1="711.00" x2="43.80" y2="713.20" stroke="#e0202e" stroke-width="1.6"/>
<line x1="64.00" y1="711.00" x2="64.00" y2="713.20" stroke="#e0202e" stroke-width="1.6"/>
<line x1="53.40" y1="705.00" x2="53.40" y2="718.80" stroke="#e0202e" stroke-width="1.45"/>
<line x1="52.30" y1="705.00" x2="54.50" y2="705.00" stroke="#e0202e" stroke-width="1.6"/>
<line x1="52.30" y1="718.80" x2="54.50" y2="718.80" stroke="#e0202e" stroke-width="1.6"/>
<path d="M53.40 709.30 L56.40 713.90 L50.40 713.90Z" fill="#e0202e"/>
<line x1="68.80" y1="681.30" x2="84.20" y2="681.30" stroke="#e0202e" stroke-width="1.45"/>
<line x1="68.80" y1="680.20" x2="68.80" y2="682.40" stroke="#e0202e" stroke-width="1.6"/>
<line x1="84.20" y1="680.20" x2="84.20" y2="682.40" stroke="#e0202e" stroke-width="1.6"/>
<line x1="74.50" y1="676.50" x2="74.50" y2="697.70" stroke="#e0202e" stroke-width="1.45"/>
<line x1="73.40" y1="676.50" x2="75.60" y2="676.50" stroke="#e0202e" stroke-width="1.6"/>
<line x1="73.40" y1="697.70" x2="75.60" y2="697.70" stroke="#e0202e" stroke-width="1.6"/>
<path d="M74.50 678.50 L77.50 683.10 L71.50 683.10Z" fill="#e0202e"/>
<line x1="69.70" y1="684.60" x2="89.00" y2="684.60" stroke="#e0202e" stroke-width="1.45"/>
<line x1="69.70" y1="683.50" x2="69.70" y2="685.70" stroke="#e0202e" stroke-width="1.6"/>
<line x1="89.00" y1="683.50" x2="89.00" y2="685.70" stroke="#e0202e" stroke-width="1.6"/>
<line x1="79.30" y1="678.50" x2="79.30" y2="692.90" stroke="#e0202e" stroke-width="1.45"/>
<line x1="78.20" y1="678.50" x2="80.40" y2="678.50" stroke="#e0202e" stroke-width="1.6"/>
<line x1="78.20" y1="692.90" x2="80.40" y2="692.90" stroke="#e0202e" stroke-width="1.6"/>
<path d="M79.30 681.80 L82.30 686.40 L76.30 686.40Z" fill="#e0202e"/>
<line x1="89.90" y1="681.30" x2="105.30" y2="681.30" stroke="#e0202e" stroke-width="1.45"/>
<line x1="89.90" y1="680.20" x2="89.90" y2="682.40" stroke="#e0202e" stroke-width="1.6"/>
<line x1="105.30" y1="680.20" x2="105.30" y2="682.40" stroke="#e0202e" stroke-width="1.6"/>
<line x1="95.70" y1="675.60" x2="95.70" y2="683.30" stroke="#e0202e" stroke-width="1.45"/>
<line x1="94.60" y1="675.60" x2="96.80" y2="675.60" stroke="#e0202e" stroke-width="1.6"/>
<line x1="94.60" y1="683.30" x2="96.80" y2="683.30" stroke="#e0202e" stroke-width="1.6"/>
<path d="M95.70 678.50 L98.70 683.10 L92.70 683.10Z" fill="#e0202e"/>
<line x1="93.80" y1="686.50" x2="111.00" y2="686.50" stroke="#e0202e" stroke-width="1.45"/>
<line x1="93.80" y1="685.40" x2="93.80" y2="687.60" stroke="#e0202e" stroke-width="1.6"/>
<line x1="111.00" y1="685.40" x2="111.00" y2="687.60" stroke="#e0202e" stroke-width="1.6"/>
<line x1="101.50" y1="680.40" x2="101.50" y2="695.80" stroke="#e0202e" stroke-width="1.45"/>
<line x1="100.40" y1="680.40" x2="102.60" y2="680.40" stroke="#e0202e" stroke-width="1.6"/>
<line x1="100.40" y1="695.80" x2="102.60" y2="695.80" stroke="#e0202e" stroke-width="1.6"/>
<path d="M101.50 683.70 L104.50 688.30 L98.50 688.30Z" fill="#e0202e"/>
<line x1="88.00" y1="669.00" x2="88.00" y2="684.00" stroke="#e0202e" stroke-width="1.45"/>
<line x1="86.90" y1="669.00" x2="89.10" y2="669.00" stroke="#e0202e" stroke-width="1.6"/>
<line x1="86.90" y1="684.00" x2="89.10" y2="684.00" stroke="#e0202e" stroke-width="1.6"/>
<path d="M88.00 675.20 L91.00 679.80 L85.00 679.80Z" fill="#e0202e"/>
<path d="M41.60 728.43 L41.77 728.16 L42.12 727.60 L42.59 726.85 L43.17 725.94 L43.84 724.89 L44.60 723.73 L45.44 722.46 L46.36 721.10 L47.34 719.65 L48.40 718.14 L49.52 716.56 L50.70 714.93 L51.95 713.25 L53.25 711.53 L54.61 709.78 L56.02 707.99 L57.49 706.19 L59.01 704.36 L60.59 702.52 L62.21 700.67 L63.88 698.81 L65.61 696.96 L67.38 695.10 L69.19 693.24 L71.05 691.39 L72.96 689.55 L74.91 687.72 L76.91 685.90 L78.95 684.09 L81.03 682.30 L83.15 680.53 L85.32 678.78 L87.53 677.04 L89.77 675.33 L92.06 673.63 L94.39 671.96 L96.75 670.31 L99.16 668.69 L101.60 667.08 L104.08 665.50 L106.60 663.95 L109.15 662.42 L111.74 660.91 L114.37 659.43 L117.04 657.97 L119.74 656.53 L122.47 655.12 L125.24 653.74 L128.05 652.37 L130.89 651.04 L133.76 649.72 L136.67 648.43 L139.61 647.16 L142.59 645.91 L145.60 644.69 L148.64 643.49 L151.71 642.31 L154.82 641.16 L157.96 640.02 L161.13 638.90 L164.33 637.81 L167.57 636.74 L170.84 635.68 L174.13 634.65 L177.46 633.63 L180.82 632.64 L184.21 631.66 L187.63 630.70 L191.08 629.76 L194.57 628.84 L198.08 627.93 L201.62 627.04 L205.19 626.17 L208.79 625.31 L212.42 624.47 L216.08 623.65 L219.76 622.84 L223.48 622.04 L227.23 621.26 L231.00 620.49" fill="none" stroke="#1a5aaa" stroke-width="4.9" stroke-linecap="round" stroke-linejoin="round"/>
<text x="195.80" y="702.00" font-size="6.8" text-anchor="end" font-weight="normal" fill="#222" stroke="#222" stroke-width="0.2">S data</text>
<line x1="200.40" y1="699.80" x2="218.60" y2="699.80" stroke="#e0202e" stroke-width="1.6"/>
<line x1="200.70" y1="698.80" x2="200.70" y2="700.80" stroke="#e0202e" stroke-width="1.4"/>
<line x1="218.30" y1="698.80" x2="218.30" y2="700.80" stroke="#e0202e" stroke-width="1.4"/>
<path d="M209.50 696.90 L212.60 701.60 L206.40 701.60Z" fill="#e0202e"/>
<text x="195.80" y="709.90" font-size="6.8" text-anchor="end" font-weight="normal" fill="#222" stroke="#222" stroke-width="0.2">LC data</text>
<line x1="200.40" y1="707.70" x2="218.60" y2="707.70" stroke="#20a848" stroke-width="1.6"/>
<line x1="200.70" y1="706.70" x2="200.70" y2="708.70" stroke="#20a848" stroke-width="1.4"/>
<line x1="218.30" y1="706.70" x2="218.30" y2="708.70" stroke="#20a848" stroke-width="1.4"/>
<path d="M207.30 705.30 L211.70 710.10 M211.70 705.30 L207.30 710.10" stroke="#20a848" stroke-width="1.9"/>
<text x="195.80" y="717.50" font-size="6.8" text-anchor="end" font-weight="normal" fill="#222" stroke="#222" stroke-width="0.2">model</text>
<rect x="200.80" y="713.50" width="17.20" height="3.6" fill="#1a5aaa"/>
<text x="281.00" y="625.20" font-size="17" text-anchor="start" font-weight="bold" fill="#000" stroke="#000" stroke-width="0.2">H</text>
<rect x="323.90" y="618.00" width="190.90" height="111.00" fill="none" stroke="#4a4a4a" stroke-width="1"/>
<line x1="323.90" y1="729.00" x2="323.90" y2="726.50" stroke="#4a4a4a" stroke-width="0.8"/>
<line x1="323.90" y1="618.00" x2="323.90" y2="620.50" stroke="#4a4a4a" stroke-width="0.8"/>
<text x="323.90" y="738.70" font-size="6.6" text-anchor="middle" font-weight="bold" fill="#111" stroke="#111" stroke-width="0.1">0</text>
<line x1="361.80" y1="729.00" x2="361.80" y2="726.50" stroke="#4a4a4a" stroke-width="0.8"/>
<line x1="361.80" y1="618.00" x2="361.80" y2="620.50" stroke="#4a4a4a" stroke-width="0.8"/>
<text x="361.80" y="738.70" font-size="6.6" text-anchor="middle" font-weight="bold" fill="#111" stroke="#111" stroke-width="0.1">0.25</text>
<line x1="399.70" y1="729.00" x2="399.70" y2="726.50" stroke="#4a4a4a" stroke-width="0.8"/>
<line x1="399.70" y1="618.00" x2="399.70" y2="620.50" stroke="#4a4a4a" stroke-width="0.8"/>
<text x="399.70" y="738.70" font-size="6.6" text-anchor="middle" font-weight="bold" fill="#111" stroke="#111" stroke-width="0.1">0.5</text>
<line x1="437.60" y1="729.00" x2="437.60" y2="726.50" stroke="#4a4a4a" stroke-width="0.8"/>
<line x1="437.60" y1="618.00" x2="437.60" y2="620.50" stroke="#4a4a4a" stroke-width="0.8"/>
<text x="437.60" y="738.70" font-size="6.6" text-anchor="middle" font-weight="bold" fill="#111" stroke="#111" stroke-width="0.1">0.75</text>
<line x1="475.50" y1="729.00" x2="475.50" y2="726.50" stroke="#4a4a4a" stroke-width="0.8"/>
<line x1="475.50" y1="618.00" x2="475.50" y2="620.50" stroke="#4a4a4a" stroke-width="0.8"/>
<text x="475.50" y="738.70" font-size="6.6" text-anchor="middle" font-weight="bold" fill="#111" stroke="#111" stroke-width="0.1">1</text>
<line x1="513.40" y1="729.00" x2="513.40" y2="726.50" stroke="#4a4a4a" stroke-width="0.8"/>
<line x1="513.40" y1="618.00" x2="513.40" y2="620.50" stroke="#4a4a4a" stroke-width="0.8"/>
<text x="513.40" y="738.70" font-size="6.6" text-anchor="middle" font-weight="bold" fill="#111" stroke="#111" stroke-width="0.1">1.25</text>
<line x1="323.90" y1="729.40" x2="326.40" y2="729.40" stroke="#4a4a4a" stroke-width="0.8"/>
<line x1="514.80" y1="729.40" x2="512.30" y2="729.40" stroke="#4a4a4a" stroke-width="0.8"/>
<text x="320.10" y="731.80" font-size="6.6" text-anchor="end" font-weight="bold" fill="#111" stroke="#111" stroke-width="0.1">0</text>
<line x1="323.90" y1="701.55" x2="326.40" y2="701.55" stroke="#4a4a4a" stroke-width="0.8"/>
<line x1="514.80" y1="701.55" x2="512.30" y2="701.55" stroke="#4a4a4a" stroke-width="0.8"/>
<text x="320.10" y="703.95" font-size="6.6" text-anchor="end" font-weight="bold" fill="#111" stroke="#111" stroke-width="0.1">0.5</text>
<line x1="323.90" y1="673.70" x2="326.40" y2="673.70" stroke="#4a4a4a" stroke-width="0.8"/>
<line x1="514.80" y1="673.70" x2="512.30" y2="673.70" stroke="#4a4a4a" stroke-width="0.8"/>
<text x="320.10" y="676.10" font-size="6.6" text-anchor="end" font-weight="bold" fill="#111" stroke="#111" stroke-width="0.1">1</text>
<line x1="323.90" y1="645.85" x2="326.40" y2="645.85" stroke="#4a4a4a" stroke-width="0.8"/>
<line x1="514.80" y1="645.85" x2="512.30" y2="645.85" stroke="#4a4a4a" stroke-width="0.8"/>
<text x="320.10" y="648.25" font-size="6.6" text-anchor="end" font-weight="bold" fill="#111" stroke="#111" stroke-width="0.1">1.5</text>
<line x1="323.90" y1="618.00" x2="326.40" y2="618.00" stroke="#4a4a4a" stroke-width="0.8"/>
<line x1="514.80" y1="618.00" x2="512.30" y2="618.00" stroke="#4a4a4a" stroke-width="0.8"/>
<text x="320.10" y="620.40" font-size="6.6" text-anchor="end" font-weight="bold" fill="#111" stroke="#111" stroke-width="0.1">2</text>
<text x="304.70" y="673.70" font-size="11.2" text-anchor="middle" font-weight="normal" fill="#161616" stroke="#161616" stroke-width="0.2" transform="rotate(-90 304.70 673.70)">pAkt (AU)</text>
<text x="421.80" y="753.60" font-size="11.6" text-anchor="middle" font-weight="normal" fill="#161616" stroke="#161616" stroke-width="0.2">VEGF (nM)</text>
<line x1="361.60" y1="669.00" x2="361.60" y2="680.30" stroke="#e0202e" stroke-width="1.45"/>
<line x1="360.50" y1="669.00" x2="362.70" y2="669.00" stroke="#e0202e" stroke-width="1.6"/>
<line x1="360.50" y1="680.30" x2="362.70" y2="680.30" stroke="#e0202e" stroke-width="1.6"/>
<path d="M361.60 671.40 L364.60 676.00 L358.60 676.00Z" fill="#e0202e"/>
<line x1="342.80" y1="676.50" x2="342.80" y2="696.70" stroke="#e0202e" stroke-width="1.45"/>
<line x1="341.70" y1="676.50" x2="343.90" y2="676.50" stroke="#e0202e" stroke-width="1.6"/>
<line x1="341.70" y1="696.70" x2="343.90" y2="696.70" stroke="#e0202e" stroke-width="1.6"/>
<path d="M342.80 683.00 L345.80 687.60 L339.80 687.60Z" fill="#e0202e"/>
<line x1="333.20" y1="679.00" x2="333.20" y2="685.20" stroke="#e0202e" stroke-width="1.45"/>
<line x1="332.10" y1="679.00" x2="334.30" y2="679.00" stroke="#e0202e" stroke-width="1.6"/>
<line x1="332.10" y1="685.20" x2="334.30" y2="685.20" stroke="#e0202e" stroke-width="1.6"/>
<path d="M333.20 678.70 L336.20 683.30 L330.20 683.30Z" fill="#e0202e"/>
<line x1="327.00" y1="679.00" x2="327.00" y2="684.00" stroke="#e0202e" stroke-width="1.45"/>
<line x1="325.90" y1="679.00" x2="328.10" y2="679.00" stroke="#e0202e" stroke-width="1.6"/>
<line x1="325.90" y1="684.00" x2="328.10" y2="684.00" stroke="#e0202e" stroke-width="1.6"/>
<path d="M327.00 678.50 L330.00 683.10 L324.00 683.10Z" fill="#e0202e"/>
<line x1="324.00" y1="707.30" x2="324.00" y2="718.80" stroke="#e0202e" stroke-width="1.45"/>
<line x1="322.90" y1="707.30" x2="325.10" y2="707.30" stroke="#e0202e" stroke-width="1.6"/>
<line x1="322.90" y1="718.80" x2="325.10" y2="718.80" stroke="#e0202e" stroke-width="1.6"/>
<path d="M324.00 709.00 L327.00 713.60 L321.00 713.60Z" fill="#e0202e"/>
<line x1="437.30" y1="674.00" x2="437.30" y2="687.60" stroke="#e0202e" stroke-width="1.45"/>
<line x1="436.20" y1="674.00" x2="438.40" y2="674.00" stroke="#e0202e" stroke-width="1.6"/>
<line x1="436.20" y1="687.60" x2="438.40" y2="687.60" stroke="#e0202e" stroke-width="1.6"/>
<path d="M437.30 677.70 L440.30 682.30 L434.30 682.30Z" fill="#e0202e"/>
<line x1="513.50" y1="675.00" x2="513.50" y2="693.80" stroke="#e0202e" stroke-width="1.45"/>
<line x1="512.40" y1="675.00" x2="514.60" y2="675.00" stroke="#e0202e" stroke-width="1.6"/>
<line x1="512.40" y1="693.80" x2="514.60" y2="693.80" stroke="#e0202e" stroke-width="1.6"/>
<path d="M513.50 682.20 L516.50 686.80 L510.50 686.80Z" fill="#e0202e"/>
<line x1="361.60" y1="619.00" x2="361.60" y2="636.60" stroke="#20a848" stroke-width="1.45"/>
<line x1="360.50" y1="619.00" x2="362.70" y2="619.00" stroke="#20a848" stroke-width="1.6"/>
<line x1="360.50" y1="636.60" x2="362.70" y2="636.60" stroke="#20a848" stroke-width="1.6"/>
<path d="M359.60 626.30 L363.60 630.70 M363.60 626.30 L359.60 630.70" stroke="#20a848" stroke-width="1.7"/>
<line x1="342.80" y1="658.80" x2="342.80" y2="664.00" stroke="#20a848" stroke-width="1.45"/>
<line x1="341.70" y1="658.80" x2="343.90" y2="658.80" stroke="#20a848" stroke-width="1.6"/>
<line x1="341.70" y1="664.00" x2="343.90" y2="664.00" stroke="#20a848" stroke-width="1.6"/>
<path d="M340.80 659.00 L344.80 663.40 M344.80 659.00 L340.80 663.40" stroke="#20a848" stroke-width="1.7"/>
<line x1="333.40" y1="664.00" x2="333.40" y2="676.50" stroke="#20a848" stroke-width="1.45"/>
<line x1="332.30" y1="664.00" x2="334.50" y2="664.00" stroke="#20a848" stroke-width="1.6"/>
<line x1="332.30" y1="676.50" x2="334.50" y2="676.50" stroke="#20a848" stroke-width="1.6"/>
<path d="M331.40 667.60 L335.40 672.00 M335.40 667.60 L331.40 672.00" stroke="#20a848" stroke-width="1.7"/>
<line x1="326.70" y1="670.40" x2="326.70" y2="678.50" stroke="#20a848" stroke-width="1.45"/>
<line x1="325.60" y1="670.40" x2="327.80" y2="670.40" stroke="#20a848" stroke-width="1.6"/>
<line x1="325.60" y1="678.50" x2="327.80" y2="678.50" stroke="#20a848" stroke-width="1.6"/>
<path d="M324.70 671.50 L328.70 675.90 M328.70 671.50 L324.70 675.90" stroke="#20a848" stroke-width="1.7"/>
<line x1="328.50" y1="668.00" x2="328.50" y2="676.00" stroke="#20a848" stroke-width="1.45"/>
<line x1="327.40" y1="668.00" x2="329.60" y2="668.00" stroke="#20a848" stroke-width="1.6"/>
<line x1="327.40" y1="676.00" x2="329.60" y2="676.00" stroke="#20a848" stroke-width="1.6"/>
<path d="M326.50 669.80 L330.50 674.20 M330.50 669.80 L326.50 674.20" stroke="#20a848" stroke-width="1.7"/>
<line x1="437.30" y1="626.60" x2="437.30" y2="651.00" stroke="#20a848" stroke-width="1.45"/>
<line x1="436.20" y1="626.60" x2="438.40" y2="626.60" stroke="#20a848" stroke-width="1.6"/>
<line x1="436.20" y1="651.00" x2="438.40" y2="651.00" stroke="#20a848" stroke-width="1.6"/>
<path d="M435.30 636.30 L439.30 640.70 M439.30 636.30 L435.30 640.70" stroke="#20a848" stroke-width="1.7"/>
<line x1="513.50" y1="631.00" x2="513.50" y2="647.00" stroke="#20a848" stroke-width="1.45"/>
<line x1="512.40" y1="631.00" x2="514.60" y2="631.00" stroke="#20a848" stroke-width="1.6"/>
<line x1="512.40" y1="647.00" x2="514.60" y2="647.00" stroke="#20a848" stroke-width="1.6"/>
<path d="M511.50 635.30 L515.50 639.70 M515.50 635.30 L511.50 639.70" stroke="#20a848" stroke-width="1.7"/>
<path d="M322.00 703.80 L326.00 708.20 M326.00 703.80 L322.00 708.20" stroke="#20a848" stroke-width="1.7"/>
<path d="M323.80 707.00 L324.07 704.47 L324.57 700.03 L325.21 694.97 L325.97 690.64 L326.84 686.73 L327.79 683.12 L328.83 680.04 L329.95 677.62 L331.13 675.55 L332.39 673.72 L333.71 672.14 L335.09 670.78 L336.53 669.58 L338.03 668.50 L339.58 667.59 L341.18 666.94 L342.84 666.46 L344.54 666.09 L346.29 665.88 L348.09 665.74 L349.94 665.64 L351.82 665.60 L353.76 665.62 L355.73 665.67 L357.75 665.75 L359.81 665.84 L361.90 665.95 L364.04 666.10 L366.21 666.28 L368.43 666.47 L370.68 666.69 L372.96 666.94 L375.29 667.22 L377.64 667.52 L380.04 667.84 L382.46 668.17 L384.92 668.52 L387.42 668.89 L389.95 669.30 L392.51 669.74 L395.10 670.21 L397.72 670.68 L400.38 671.15 L403.07 671.61 L405.78 672.07 L408.53 672.53 L411.31 672.99 L414.12 673.46 L416.95 673.92 L419.82 674.37 L422.72 674.82 L425.64 675.26 L428.59 675.70 L431.57 676.13 L434.58 676.55 L437.61 676.95 L440.68 677.33 L443.76 677.70 L446.88 678.05 L450.02 678.39 L453.19 678.72 L456.39 679.05 L459.61 679.37 L462.85 679.70 L466.12 680.02 L469.42 680.33 L472.74 680.63 L476.09 680.90 L479.46 681.15 L482.86 681.38 L486.28 681.61 L489.72 681.82 L493.19 682.03 L496.69 682.24 L500.20 682.44 L503.74 682.64 L507.30 682.83 L510.89 683.02 L514.50 683.20" fill="none" stroke="#1a5aaa" stroke-width="4.3" stroke-linecap="round" stroke-linejoin="round"/>
<path d="M323.80 707.00 L324.07 704.47 L324.57 700.06 L325.21 695.05 L325.97 690.56 L326.84 686.51 L327.79 682.87 L328.83 679.78 L329.95 677.14 L331.13 674.80 L332.39 672.58 L333.71 670.24 L335.09 667.74 L336.53 665.37 L338.03 663.42 L339.58 661.80 L341.18 660.28 L342.84 658.67 L344.54 656.95 L346.29 655.27 L348.09 653.75 L349.94 652.46 L351.82 651.26 L353.76 650.15 L355.73 649.15 L357.75 648.26 L359.81 647.43 L361.90 646.67 L364.04 645.96 L366.21 645.29 L368.43 644.63 L370.68 643.99 L372.96 643.37 L375.29 642.77 L377.64 642.19 L380.04 641.63 L382.46 641.09 L384.92 640.57 L387.42 640.08 L389.95 639.61 L392.51 639.15 L395.10 638.71 L397.72 638.29 L400.38 637.88 L403.07 637.49 L405.78 637.12 L408.53 636.75 L411.31 636.40 L414.12 636.07 L416.95 635.75 L419.82 635.45 L422.72 635.16 L425.64 634.90 L428.59 634.65 L431.57 634.41 L434.58 634.18 L437.61 633.95 L440.68 633.72 L443.76 633.48 L446.88 633.24 L450.02 633.01 L453.19 632.79 L456.39 632.59 L459.61 632.41 L462.85 632.25 L466.12 632.09 L469.42 631.95 L472.74 631.82 L476.09 631.70 L479.46 631.59 L482.86 631.49 L486.28 631.39 L489.72 631.30 L493.19 631.22 L496.69 631.16 L500.20 631.09 L503.74 631.03 L507.30 630.98 L510.89 630.94 L514.50 630.90" fill="none" stroke="#66247f" stroke-width="4.3" stroke-linecap="round" stroke-linejoin="round"/>
<text x="478.30" y="698.00" font-size="6.8" text-anchor="end" font-weight="normal" fill="#222" stroke="#222" stroke-width="0.2">S data</text>
<line x1="483.10" y1="695.80" x2="501.30" y2="695.80" stroke="#e0202e" stroke-width="1.6"/>
<line x1="483.40" y1="694.80" x2="483.40" y2="696.80" stroke="#e0202e" stroke-width="1.4"/>
<line x1="501.00" y1="694.80" x2="501.00" y2="696.80" stroke="#e0202e" stroke-width="1.4"/>
<path d="M492.20 692.90 L495.30 697.60 L489.10 697.60Z" fill="#e0202e"/>
<text x="478.30" y="705.70" font-size="6.8" text-anchor="end" font-weight="normal" fill="#222" stroke="#222" stroke-width="0.2">LC data</text>
<line x1="483.10" y1="703.50" x2="501.30" y2="703.50" stroke="#20a848" stroke-width="1.6"/>
<line x1="483.40" y1="702.50" x2="483.40" y2="704.50" stroke="#20a848" stroke-width="1.4"/>
<line x1="501.00" y1="702.50" x2="501.00" y2="704.50" stroke="#20a848" stroke-width="1.4"/>
<path d="M490.00 701.10 L494.40 705.90 M494.40 701.10 L490.00 705.90" stroke="#20a848" stroke-width="1.9"/>
<text x="478.30" y="714.00" font-size="6.8" text-anchor="end" font-weight="normal" fill="#222" stroke="#222" stroke-width="0.2">S model</text>
<rect x="483.50" y="710.00" width="17.20" height="3.6" fill="#1a5aaa"/>
<text x="478.30" y="721.80" font-size="6.8" text-anchor="end" font-weight="normal" fill="#222" stroke="#222" stroke-width="0.2">LC model</text>
<rect x="483.50" y="717.80" width="17.20" height="3.6" fill="#66247f"/>
</svg></body></html>
